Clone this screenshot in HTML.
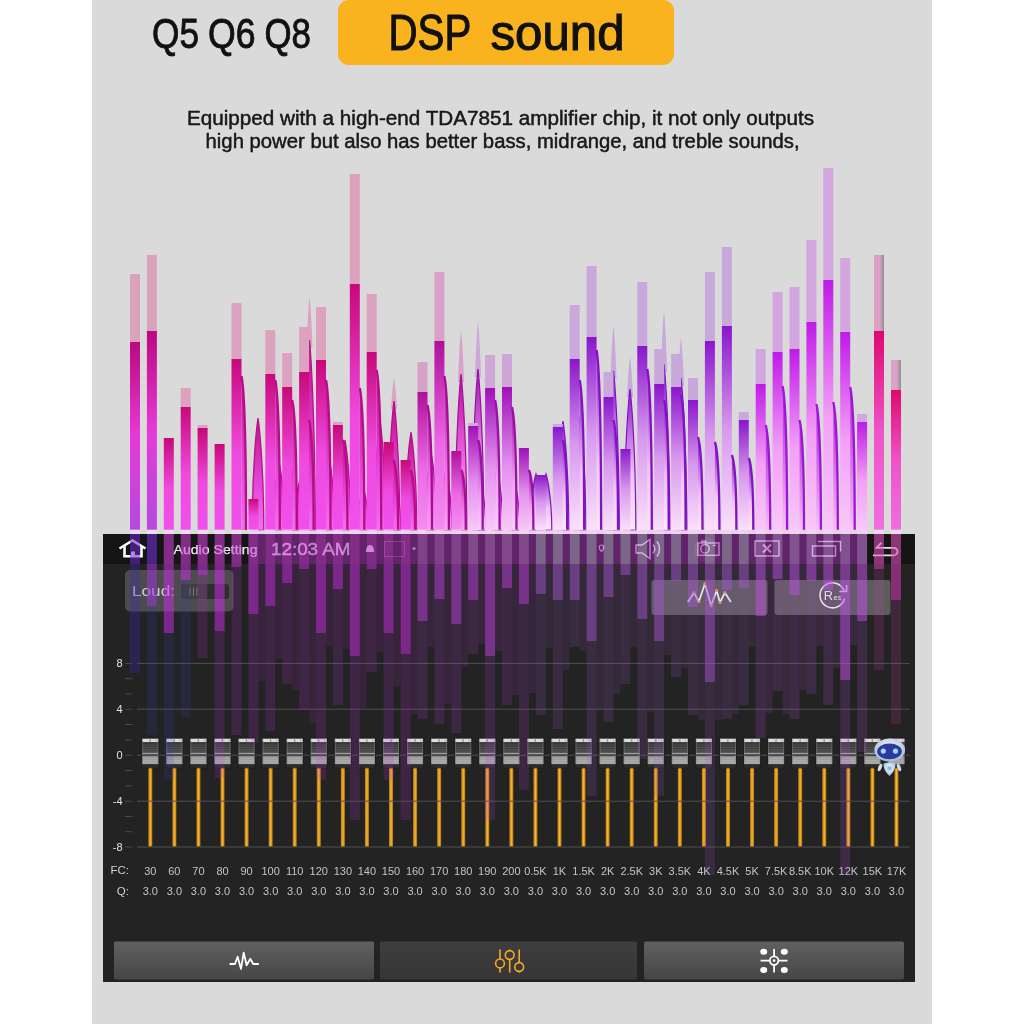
<!DOCTYPE html><html><head><meta charset="utf-8"><title>DSP sound</title><style>
html,body{margin:0;padding:0;background:#fff;}body{width:1024px;height:1024px;overflow:hidden;position:relative;}
svg{position:absolute;left:0;top:0;display:block}
.t{font-family:"Liberation Sans",Arial,sans-serif;}
</style></head><body>
<svg width="1024" height="1024" viewBox="0 0 1024 1024">
<defs>
<linearGradient id="gA" x1="0" y1="0" x2="0" y2="1"><stop offset="0" stop-color="#bc0880"/><stop offset="0.5" stop-color="#e63ad8"/><stop offset="1" stop-color="#b44ae0"/></linearGradient>
<linearGradient id="aA" x1="0" y1="0" x2="0" y2="1"><stop offset="0" stop-color="#c0108a"/><stop offset="1" stop-color="#f070e8"/></linearGradient>
<linearGradient id="gB" x1="0" y1="0" x2="0" y2="1"><stop offset="0" stop-color="#c8087a"/><stop offset="0.55" stop-color="#f04ae0"/><stop offset="1" stop-color="#f050ec"/></linearGradient>
<linearGradient id="aB" x1="0" y1="0" x2="0" y2="1"><stop offset="0" stop-color="#c0108a"/><stop offset="0.6" stop-color="#e448d8"/><stop offset="1" stop-color="#f070ec"/></linearGradient>
<linearGradient id="gB2" x1="0" y1="0" x2="0" y2="1"><stop offset="0" stop-color="#b0109a"/><stop offset="0.55" stop-color="#ec68e8"/><stop offset="1" stop-color="#f48cf0"/></linearGradient>
<linearGradient id="aB2" x1="0" y1="0" x2="0" y2="1"><stop offset="0" stop-color="#b0109a"/><stop offset="0.6" stop-color="#f070e8"/><stop offset="1" stop-color="#f8a0f4"/></linearGradient>
<linearGradient id="gC" x1="0" y1="0" x2="0" y2="1"><stop offset="0" stop-color="#a010b8"/><stop offset="0.55" stop-color="#e490f0"/><stop offset="1" stop-color="#f8c8f8"/></linearGradient>
<linearGradient id="aC" x1="0" y1="0" x2="0" y2="1"><stop offset="0" stop-color="#a010a8"/><stop offset="0.6" stop-color="#f0a0f0"/><stop offset="1" stop-color="#f8d0f8"/></linearGradient>
<linearGradient id="gD" x1="0" y1="0" x2="0" y2="1"><stop offset="0" stop-color="#8a16cc"/><stop offset="0.5" stop-color="#d898ee"/><stop offset="1" stop-color="#fbe0fb"/></linearGradient>
<linearGradient id="aD" x1="0" y1="0" x2="0" y2="1"><stop offset="0" stop-color="#8a16cc"/><stop offset="0.6" stop-color="#f0c0f4"/><stop offset="1" stop-color="#fce8fc"/></linearGradient>
<linearGradient id="gE" x1="0" y1="0" x2="0" y2="1"><stop offset="0" stop-color="#c01ae8"/><stop offset="0.55" stop-color="#f4a0f8"/><stop offset="1" stop-color="#f8c8f8"/></linearGradient>
<linearGradient id="aE" x1="0" y1="0" x2="0" y2="1"><stop offset="0" stop-color="#b018e0"/><stop offset="1" stop-color="#f8c0f8"/></linearGradient>
<linearGradient id="gF" x1="0" y1="0" x2="0" y2="1"><stop offset="0" stop-color="#e0086e"/><stop offset="0.5" stop-color="#f052c8"/><stop offset="1" stop-color="#f06ee0"/></linearGradient>
<linearGradient id="aF" x1="0" y1="0" x2="0" y2="1"><stop offset="0" stop-color="#c0086e"/><stop offset="1" stop-color="#f070e0"/></linearGradient>
<linearGradient id="knobTop" x1="0" y1="0" x2="0" y2="1"><stop offset="0" stop-color="#404040"/><stop offset="1" stop-color="#5c5c5c"/></linearGradient>
<linearGradient id="knobBot" x1="0" y1="0" x2="0" y2="1"><stop offset="0" stop-color="#909090"/><stop offset="1" stop-color="#ababab"/></linearGradient>
<linearGradient id="btn" x1="0" y1="0" x2="0" y2="1"><stop offset="0" stop-color="#606060"/><stop offset="1" stop-color="#464646"/></linearGradient>
<linearGradient id="btn2" x1="0" y1="0" x2="0" y2="1"><stop offset="0" stop-color="#3e3e3e"/><stop offset="1" stop-color="#363636"/></linearGradient>
<linearGradient id="stem" x1="0" y1="0" x2="1" y2="0"><stop offset="0" stop-color="#b07010"/><stop offset="0.5" stop-color="#f8b830"/><stop offset="1" stop-color="#b07010"/></linearGradient>
<radialGradient id="robo" cx="0.5" cy="0.4" r="0.6"><stop offset="0" stop-color="#ffffff"/><stop offset="1" stop-color="#a8b8d0"/></radialGradient>
<linearGradient id="gstrip" x1="0" y1="0" x2="1" y2="0"><stop offset="0" stop-color="#909090" stop-opacity="0"/><stop offset="1" stop-color="#8a8a8a" stop-opacity="0.9"/></linearGradient>
<clipPath id="topclip"><rect x="92" y="0" width="840" height="534"/></clipPath>
</defs>
<rect x="92" y="0" width="840" height="1024" fill="#dadada"/>
<text class="t" y="48" font-size="42.5" fill="#111" stroke="#111" stroke-width="0.9"><tspan x="152" textLength="47" lengthAdjust="spacingAndGlyphs">Q5</tspan> <tspan x="208" textLength="47.5" lengthAdjust="spacingAndGlyphs">Q6</tspan> <tspan x="264.5" textLength="46.5" lengthAdjust="spacingAndGlyphs">Q8</tspan></text>
<rect x="338" y="0" width="336" height="65" rx="11" fill="#f9b31e"/>
<text class="t" y="50.3" font-size="49.5" fill="#111" stroke="#111" stroke-width="1.1"><tspan x="388.5" textLength="82" lengthAdjust="spacingAndGlyphs">DSP</tspan> <tspan x="490.5" textLength="134" lengthAdjust="spacingAndGlyphs">sound</tspan></text>
<text class="t" x="187" y="125" font-size="19.5" fill="#1a1a1a" stroke="#111" stroke-width="0.45" textLength="627" lengthAdjust="spacingAndGlyphs">Equipped with a high-end TDA7851 amplifier chip, it not only outputs</text>
<text class="t" x="205.6" y="148.4" font-size="19.5" fill="#1a1a1a" stroke="#111" stroke-width="0.45" textLength="594" lengthAdjust="spacingAndGlyphs">high power but also has better bass, midrange, and treble sounds,</text>
<g clip-path="url(#topclip)">
<path d="M252.2,530 C252.2,468.4 256.5,427.0 258.0,418 C259.5,427.0 263.8,468.4 263.8,530 Z" fill="url(#aB)" stroke="#b80c8c" stroke-width="1.2"/>
<path d="M273.2,530 C273.2,493.1 277.5,468.4 279.0,463 C280.5,468.4 284.8,493.1 284.8,530 Z" fill="url(#aB)" stroke="#b80c8c" stroke-width="1.2"/>
<path d="M306.5,348 C307.5,320.3 309.0,299.0 309.5,297 C310.0,299.0 311.5,320.3 312.5,348 Z" fill="#dca2c0"/>
<path d="M303.7,530 C303.7,425.5 308.0,355.2 309.5,340 C311.0,355.2 315.3,425.5 315.3,530 Z" fill="url(#aB)" stroke="#b80c8c" stroke-width="1.2"/>
<path d="M323.2,530 C323.2,490.4 327.5,463.8 329.0,458 C330.5,463.8 334.8,490.4 334.8,530 Z" fill="url(#aB)" stroke="#b80c8c" stroke-width="1.2"/>
<path d="M339.2,530 C339.2,480.5 343.5,447.2 345.0,440 C346.5,447.2 350.8,480.5 350.8,530 Z" fill="url(#aB)" stroke="#b80c8c" stroke-width="1.2"/>
<path d="M357.2,530 C357.2,506.9 361.5,491.4 363.0,488 C364.5,491.4 368.8,506.9 368.8,530 Z" fill="url(#aB)" stroke="#b80c8c" stroke-width="1.2"/>
<path d="M374.2,530 C374.2,470.1 378.5,429.7 380.0,421 C381.5,429.7 385.8,470.1 385.8,530 Z" fill="url(#aB)" stroke="#b80c8c" stroke-width="1.2"/>
<path d="M391.0,409 C392.0,393.2 393.5,380.0 394.0,378 C394.5,380.0 396.0,393.2 397.0,409 Z" fill="#dca2c0"/>
<path d="M388.2,530 C388.2,459.1 392.5,411.3 394.0,401 C395.5,411.3 399.8,459.1 399.8,530 Z" fill="url(#aB)" stroke="#b80c8c" stroke-width="1.2"/>
<path d="M405.2,530 C405.2,476.1 409.5,439.8 411.0,432 C412.5,439.8 416.8,476.1 416.8,530 Z" fill="url(#aB)" stroke="#b80c8c" stroke-width="1.2"/>
<path d="M425.2,530 C425.2,487.6 429.5,459.2 431.0,453 C432.5,459.2 436.8,487.6 436.8,530 Z" fill="url(#aB2)" stroke="#a80c98" stroke-width="1.2"/>
<path d="M458.0,382 C459.0,350.9 460.5,333.0 461.0,331 C461.5,333.0 463.0,350.9 464.0,382 Z" fill="#d8a2c8"/>
<path d="M455.2,530 C455.2,444.2 459.5,386.5 461.0,374 C462.5,386.5 466.8,444.2 466.8,530 Z" fill="url(#aB2)" stroke="#a80c98" stroke-width="1.2"/>
<path d="M475.0,377 C476.0,342.8 477.5,324.0 478.0,322 C478.5,324.0 480.0,342.8 481.0,377 Z" fill="#d0a6d8"/>
<path d="M472.2,530 C472.2,441.4 476.5,381.9 478.0,369 C479.5,381.9 483.8,441.4 483.8,530 Z" fill="url(#aC)" stroke="#9a10a8" stroke-width="1.2"/>
<path d="M530.2,530 C530.2,499.2 534.5,478.5 536.0,474 C537.5,478.5 541.8,499.2 541.8,530 Z" fill="url(#aD)" stroke="#8412c4" stroke-width="1.2"/>
<path d="M540.2,530 C540.2,499.2 544.5,478.5 546.0,474 C547.5,478.5 551.8,499.2 551.8,530 Z" fill="url(#aD)" stroke="#8412c4" stroke-width="1.2"/>
<path d="M557.2,530 C557.2,470.1 561.5,429.7 563.0,421 C564.5,429.7 568.8,470.1 568.8,530 Z" fill="url(#aD)" stroke="#8412c4" stroke-width="1.2"/>
<path d="M574.2,530 C574.2,467.9 578.5,426.0 580.0,417 C581.5,426.0 585.8,467.9 585.8,530 Z" fill="url(#aD)" stroke="#8412c4" stroke-width="1.2"/>
<path d="M610.5,379 C611.5,346.4 613.0,328.0 613.5,326 C614.0,328.0 615.5,346.4 616.5,379 Z" fill="#c9a8dc"/>
<path d="M607.7,530 C607.7,442.6 612.0,383.7 613.5,371 C615.0,383.7 619.3,442.6 619.3,530 Z" fill="url(#aD)" stroke="#8412c4" stroke-width="1.2"/>
<path d="M627.0,397 C628.0,374.3 629.5,359.0 630.0,357 C630.5,359.0 632.0,374.3 633.0,397 Z" fill="#c9a8dc"/>
<path d="M624.2,530 C624.2,452.4 628.5,400.3 630.0,389 C631.5,400.3 635.8,452.4 635.8,530 Z" fill="url(#aD)" stroke="#8412c4" stroke-width="1.2"/>
<path d="M661.0,372 C662.0,333.8 663.5,314.0 664.0,312 C664.5,314.0 666.0,333.8 667.0,372 Z" fill="#c9a8dc"/>
<path d="M658.2,530 C658.2,438.7 662.5,377.3 664.0,364 C665.5,377.3 669.8,438.7 669.8,530 Z" fill="url(#aD)" stroke="#8412c4" stroke-width="1.2"/>
<path d="M678.0,386 C679.0,357.2 680.5,340.0 681.0,338 C681.5,340.0 683.0,357.2 684.0,386 Z" fill="#c9a8dc"/>
<path d="M675.2,530 C675.2,446.4 679.5,390.2 681.0,378 C682.5,390.2 686.8,446.4 686.8,530 Z" fill="url(#aD)" stroke="#8412c4" stroke-width="1.2"/>
<path d="M491.2,530 C491.2,497.0 495.5,474.8 497.0,470 C498.5,474.8 502.8,497.0 502.8,530 Z" fill="url(#aC)" stroke="#9a10a8" stroke-width="1.2"/>
<path d="M508.2,530 C508.2,502.5 512.5,484.0 514.0,480 C515.5,484.0 519.8,502.5 519.8,530 Z" fill="url(#aC)" stroke="#9a10a8" stroke-width="1.2"/>
<path d="M440.2,530 C440.2,497.0 444.5,474.8 446.0,470 C447.5,474.8 451.8,497.0 451.8,530 Z" fill="url(#aB2)" stroke="#a80c98" stroke-width="1.2"/>
<path d="M474.2,530 C474.2,502.5 478.5,484.0 480.0,480 C481.5,484.0 485.8,502.5 485.8,530 Z" fill="url(#aC)" stroke="#9a10a8" stroke-width="1.2"/>
<path d="M389.2,530 C389.2,502.5 393.5,484.0 395.0,480 C396.5,484.0 400.8,502.5 400.8,530 Z" fill="url(#aB)" stroke="#b80c8c" stroke-width="1.2"/>
<path d="M294.2,530 C294.2,502.5 298.5,484.0 300.0,480 C301.5,484.0 305.8,502.5 305.8,530 Z" fill="url(#aB)" stroke="#b80c8c" stroke-width="1.2"/>
<path d="M286.2,530 C286.2,497.0 290.5,474.8 292.0,470 C293.5,474.8 297.8,497.0 297.8,530 Z" fill="url(#aB)" stroke="#b80c8c" stroke-width="1.2"/>
<rect x="130.0" y="274" width="10" height="68" fill="#dba2bb"/>
<rect x="130.0" y="342" width="10" height="188" fill="url(#gA)"/>
<rect x="146.9" y="255" width="10" height="76" fill="#dba2bb"/>
<rect x="146.9" y="331" width="10" height="199" fill="url(#gA)"/>
<rect x="163.8" y="438" width="10" height="92" fill="url(#gB)"/>
<rect x="180.7" y="388" width="10" height="19" fill="#dca2c0"/>
<rect x="180.7" y="407" width="10" height="123" fill="url(#gB)"/>
<rect x="197.6" y="425" width="10" height="3" fill="#dca2c0"/>
<rect x="197.6" y="428" width="10" height="102" fill="url(#gB)"/>
<rect x="214.6" y="444" width="10" height="86" fill="url(#gB)"/>
<rect x="231.5" y="303" width="10" height="56" fill="#dca2c0"/>
<rect x="231.5" y="359" width="10" height="171" fill="url(#gB)"/>
<rect x="248.4" y="499" width="10" height="31" fill="url(#gB)"/>
<rect x="265.3" y="330" width="10" height="44" fill="#dca2c0"/>
<rect x="265.3" y="374" width="10" height="156" fill="url(#gB)"/>
<rect x="282.2" y="353" width="10" height="34" fill="#dca2c0"/>
<rect x="282.2" y="387" width="10" height="143" fill="url(#gB)"/>
<rect x="299.1" y="327" width="10" height="45" fill="#dca2c0"/>
<rect x="299.1" y="372" width="10" height="158" fill="url(#gB)"/>
<rect x="316.0" y="307" width="10" height="53" fill="#dca2c0"/>
<rect x="316.0" y="360" width="10" height="170" fill="url(#gB)"/>
<rect x="332.9" y="422" width="10" height="3" fill="#dca2c0"/>
<rect x="332.9" y="425" width="10" height="105" fill="url(#gB)"/>
<rect x="349.8" y="174" width="10" height="110" fill="#dca2c0"/>
<rect x="349.8" y="284" width="10" height="246" fill="url(#gB)"/>
<rect x="366.7" y="294" width="10" height="58" fill="#dca2c0"/>
<rect x="366.7" y="352" width="10" height="178" fill="url(#gB)"/>
<rect x="383.6" y="442" width="10" height="88" fill="url(#gB)"/>
<rect x="400.6" y="460" width="10" height="70" fill="url(#gB)"/>
<rect x="417.5" y="362" width="10" height="30" fill="#d8a2c8"/>
<rect x="417.5" y="392" width="10" height="138" fill="url(#gB2)"/>
<rect x="434.4" y="272" width="10" height="69" fill="#d8a2c8"/>
<rect x="434.4" y="341" width="10" height="189" fill="url(#gB2)"/>
<rect x="451.3" y="451" width="10" height="79" fill="url(#gB2)"/>
<rect x="468.2" y="423" width="10" height="3" fill="#d0a6d8"/>
<rect x="468.2" y="426" width="10" height="104" fill="url(#gC)"/>
<rect x="485.1" y="355" width="10" height="33" fill="#d0a6d8"/>
<rect x="485.1" y="388" width="10" height="142" fill="url(#gC)"/>
<rect x="502.0" y="354" width="10" height="33" fill="#d0a6d8"/>
<rect x="502.0" y="387" width="10" height="143" fill="url(#gC)"/>
<rect x="518.9" y="448" width="10" height="82" fill="url(#gC)"/>
<rect x="535.8" y="475" width="10" height="55" fill="url(#gD)"/>
<rect x="552.8" y="424" width="10" height="3" fill="#c9a8dc"/>
<rect x="552.8" y="427" width="10" height="103" fill="url(#gD)"/>
<rect x="569.7" y="305" width="10" height="54" fill="#c9a8dc"/>
<rect x="569.7" y="359" width="10" height="171" fill="url(#gD)"/>
<rect x="586.6" y="266" width="10" height="71" fill="#c9a8dc"/>
<rect x="586.6" y="337" width="10" height="193" fill="url(#gD)"/>
<rect x="603.5" y="372" width="10" height="25" fill="#c9a8dc"/>
<rect x="603.5" y="397" width="10" height="133" fill="url(#gD)"/>
<rect x="620.4" y="449" width="10" height="81" fill="url(#gD)"/>
<rect x="637.3" y="282" width="10" height="64" fill="#c9a8dc"/>
<rect x="637.3" y="346" width="10" height="184" fill="url(#gD)"/>
<rect x="654.2" y="349" width="10" height="35" fill="#c9a8dc"/>
<rect x="654.2" y="384" width="10" height="146" fill="url(#gD)"/>
<rect x="671.1" y="354" width="10" height="33" fill="#c9a8dc"/>
<rect x="671.1" y="387" width="10" height="143" fill="url(#gD)"/>
<rect x="688.0" y="378" width="10" height="22" fill="#c9a8dc"/>
<rect x="688.0" y="400" width="10" height="130" fill="url(#gD)"/>
<rect x="704.9" y="272" width="10" height="69" fill="#c9a8dc"/>
<rect x="704.9" y="341" width="10" height="189" fill="url(#gD)"/>
<rect x="721.9" y="247" width="10" height="79" fill="#c9a8dc"/>
<rect x="721.9" y="326" width="10" height="204" fill="url(#gD)"/>
<rect x="738.8" y="412" width="10" height="8" fill="#c9a8dc"/>
<rect x="738.8" y="420" width="10" height="110" fill="url(#gD)"/>
<rect x="755.7" y="349" width="10" height="35" fill="#d4a6e0"/>
<rect x="755.7" y="384" width="10" height="146" fill="url(#gE)"/>
<rect x="772.6" y="292" width="10" height="60" fill="#d4a6e0"/>
<rect x="772.6" y="352" width="10" height="178" fill="url(#gE)"/>
<rect x="789.5" y="287" width="10" height="62" fill="#d4a6e0"/>
<rect x="789.5" y="349" width="10" height="181" fill="url(#gE)"/>
<rect x="806.4" y="240" width="10" height="82" fill="#d4a6e0"/>
<rect x="806.4" y="322" width="10" height="208" fill="url(#gE)"/>
<rect x="823.3" y="168" width="10" height="112" fill="#d4a6e0"/>
<rect x="823.3" y="280" width="10" height="250" fill="url(#gE)"/>
<rect x="840.2" y="258" width="10" height="74" fill="#d4a6e0"/>
<rect x="840.2" y="332" width="10" height="198" fill="url(#gE)"/>
<rect x="857.1" y="414" width="10" height="8" fill="#d4a6e0"/>
<rect x="857.1" y="422" width="10" height="108" fill="url(#gE)"/>
<rect x="874.0" y="255" width="10" height="76" fill="#dca2c6"/>
<rect x="874.0" y="331" width="10" height="199" fill="url(#gF)"/>
<rect x="891.0" y="360" width="10" height="30" fill="#dca2c6"/>
<rect x="891.0" y="390" width="10" height="140" fill="url(#gF)"/>
<rect x="879.5" y="255" width="4.5" height="76" fill="url(#gstrip)"/>
<rect x="896.5" y="360" width="4.5" height="30" fill="url(#gstrip)"/>
<path d="M241.5,376 C244.0,388.3 246.0,422.2 246.0,530 L241.5,530 Z" fill="url(#aB)"/>
<path d="M241.5,376 C244.0,388.3 246.0,422.2 246.0,530" fill="none" stroke="#b80c8c" stroke-width="2.3"/>
<path d="M275.3,380 C277.8,392.0 279.8,425.0 279.8,530 L275.3,530 Z" fill="url(#aB)"/>
<path d="M275.3,380 C277.8,392.0 279.8,425.0 279.8,530" fill="none" stroke="#b80c8c" stroke-width="2.3"/>
<path d="M292.2,400 C294.7,410.4 296.7,439.0 296.7,530 L292.2,530 Z" fill="url(#aB)"/>
<path d="M292.2,400 C294.7,410.4 296.7,439.0 296.7,530" fill="none" stroke="#b80c8c" stroke-width="2.3"/>
<path d="M326.0,380 C328.5,392.0 330.5,425.0 330.5,530 L326.0,530 Z" fill="url(#aB)"/>
<path d="M326.0,380 C328.5,392.0 330.5,425.0 330.5,530" fill="none" stroke="#b80c8c" stroke-width="2.3"/>
<path d="M342.9,440 C345.4,447.2 347.4,467.0 347.4,530 L342.9,530 Z" fill="url(#aB)"/>
<path d="M342.9,440 C345.4,447.2 347.4,467.0 347.4,530" fill="none" stroke="#b80c8c" stroke-width="2.3"/>
<path d="M359.8,388 C362.3,399.4 364.3,430.6 364.3,530 L359.8,530 Z" fill="url(#aB)"/>
<path d="M359.8,388 C362.3,399.4 364.3,430.6 364.3,530" fill="none" stroke="#b80c8c" stroke-width="2.3"/>
<path d="M376.7,370 C379.2,382.8 381.2,418.0 381.2,530 L376.7,530 Z" fill="url(#aB)"/>
<path d="M376.7,370 C379.2,382.8 381.2,418.0 381.2,530" fill="none" stroke="#b80c8c" stroke-width="2.3"/>
<path d="M427.5,405 C430.0,415.0 432.0,442.5 432.0,530 L427.5,530 Z" fill="url(#aB2)"/>
<path d="M427.5,405 C430.0,415.0 432.0,442.5 432.0,530" fill="none" stroke="#a80c98" stroke-width="2.3"/>
<path d="M444.4,376 C446.9,388.3 448.9,422.2 448.9,530 L444.4,530 Z" fill="url(#aB2)"/>
<path d="M444.4,376 C446.9,388.3 448.9,422.2 448.9,530" fill="none" stroke="#a80c98" stroke-width="2.3"/>
<path d="M495.1,400 C497.6,410.4 499.6,439.0 499.6,530 L495.1,530 Z" fill="url(#aC)"/>
<path d="M495.1,400 C497.6,410.4 499.6,439.0 499.6,530" fill="none" stroke="#9a10a8" stroke-width="2.3"/>
<path d="M512.0,407 C514.5,416.8 516.5,443.9 516.5,530 L512.0,530 Z" fill="url(#aC)"/>
<path d="M512.0,407 C514.5,416.8 516.5,443.9 516.5,530" fill="none" stroke="#9a10a8" stroke-width="2.3"/>
<path d="M528.9,470 C531.4,474.8 533.4,488.0 533.4,530 L528.9,530 Z" fill="url(#aC)"/>
<path d="M528.9,470 C531.4,474.8 533.4,488.0 533.4,530" fill="none" stroke="#9a10a8" stroke-width="2.3"/>
<path d="M596.6,350 C599.1,364.4 601.1,404.0 601.1,530 L596.6,530 Z" fill="url(#aD)"/>
<path d="M596.6,350 C599.1,364.4 601.1,404.0 601.1,530" fill="none" stroke="#8412c4" stroke-width="2.3"/>
<path d="M647.3,369 C649.8,381.9 651.8,417.3 651.8,530 L647.3,530 Z" fill="url(#aD)"/>
<path d="M647.3,369 C649.8,381.9 651.8,417.3 651.8,530" fill="none" stroke="#8412c4" stroke-width="2.3"/>
<path d="M698.0,437 C700.5,444.4 702.5,464.9 702.5,530 L698.0,530 Z" fill="url(#aD)"/>
<path d="M698.0,437 C700.5,444.4 702.5,464.9 702.5,530" fill="none" stroke="#8412c4" stroke-width="2.3"/>
<path d="M714.9,442 C717.4,449.0 719.4,468.4 719.4,530 L714.9,530 Z" fill="url(#aD)"/>
<path d="M714.9,442 C717.4,449.0 719.4,468.4 719.4,530" fill="none" stroke="#8412c4" stroke-width="2.3"/>
<path d="M731.9,455 C734.4,461.0 736.4,477.5 736.4,530 L731.9,530 Z" fill="url(#aD)"/>
<path d="M731.9,455 C734.4,461.0 736.4,477.5 736.4,530" fill="none" stroke="#8412c4" stroke-width="2.3"/>
<path d="M748.8,458 C751.3,463.8 753.3,479.6 753.3,530 L748.8,530 Z" fill="url(#aD)"/>
<path d="M748.8,458 C751.3,463.8 753.3,479.6 753.3,530" fill="none" stroke="#8412c4" stroke-width="2.3"/>
<path d="M765.7,425 C768.2,433.4 770.2,456.5 770.2,530 L765.7,530 Z" fill="url(#aE)"/>
<path d="M765.7,425 C768.2,433.4 770.2,456.5 770.2,530" fill="none" stroke="#a014d8" stroke-width="2.3"/>
<path d="M782.6,386 C785.1,397.5 787.1,429.2 787.1,530 L782.6,530 Z" fill="url(#aE)"/>
<path d="M782.6,386 C785.1,397.5 787.1,429.2 787.1,530" fill="none" stroke="#a014d8" stroke-width="2.3"/>
<path d="M799.5,420 C802.0,428.8 804.0,453.0 804.0,530 L799.5,530 Z" fill="url(#aE)"/>
<path d="M799.5,420 C802.0,428.8 804.0,453.0 804.0,530" fill="none" stroke="#a014d8" stroke-width="2.3"/>
<path d="M816.4,404 C818.9,414.1 820.9,441.8 820.9,530 L816.4,530 Z" fill="url(#aE)"/>
<path d="M816.4,404 C818.9,414.1 820.9,441.8 820.9,530" fill="none" stroke="#a014d8" stroke-width="2.3"/>
<path d="M833.3,402 C835.8,412.2 837.8,440.4 837.8,530 L833.3,530 Z" fill="url(#aE)"/>
<path d="M833.3,402 C835.8,412.2 837.8,440.4 837.8,530" fill="none" stroke="#a014d8" stroke-width="2.3"/>
<path d="M850.2,387 C852.7,398.4 854.7,429.9 854.7,530 L850.2,530 Z" fill="url(#aE)"/>
<path d="M850.2,387 C852.7,398.4 854.7,429.9 854.7,530" fill="none" stroke="#a014d8" stroke-width="2.3"/>
<path d="M562.8,440 C565.2,447.2 567.2,467.0 567.2,530 L562.8,530 Z" fill="url(#aD)"/>
<path d="M562.8,440 C565.2,447.2 567.2,467.0 567.2,530" fill="none" stroke="#8412c4" stroke-width="2.3"/>
<path d="M579.7,380 C582.2,392.0 584.2,425.0 584.2,530 L579.7,530 Z" fill="url(#aD)"/>
<path d="M579.7,380 C582.2,392.0 584.2,425.0 584.2,530" fill="none" stroke="#8412c4" stroke-width="2.3"/>
<path d="M613.5,420 C616.0,428.8 618.0,453.0 618.0,530 L613.5,530 Z" fill="url(#aD)"/>
<path d="M613.5,420 C616.0,428.8 618.0,453.0 618.0,530" fill="none" stroke="#8412c4" stroke-width="2.3"/>
<path d="M664.2,400 C666.7,410.4 668.7,439.0 668.7,530 L664.2,530 Z" fill="url(#aD)"/>
<path d="M664.2,400 C666.7,410.4 668.7,439.0 668.7,530" fill="none" stroke="#8412c4" stroke-width="2.3"/>
<path d="M681.1,395 C683.6,405.8 685.6,435.5 685.6,530 L681.1,530 Z" fill="url(#aD)"/>
<path d="M681.1,395 C683.6,405.8 685.6,435.5 685.6,530" fill="none" stroke="#8412c4" stroke-width="2.3"/>
<path d="M461.3,470 C463.8,474.8 465.8,488.0 465.8,530 L461.3,530 Z" fill="url(#aB2)"/>
<path d="M461.3,470 C463.8,474.8 465.8,488.0 465.8,530" fill="none" stroke="#a80c98" stroke-width="2.3"/>
<path d="M478.2,440 C480.7,447.2 482.7,467.0 482.7,530 L478.2,530 Z" fill="url(#aC)"/>
<path d="M478.2,440 C480.7,447.2 482.7,467.0 482.7,530" fill="none" stroke="#9a10a8" stroke-width="2.3"/>
<path d="M309.1,420 C311.6,428.8 313.6,453.0 313.6,530 L309.1,530 Z" fill="url(#aB)"/>
<path d="M309.1,420 C311.6,428.8 313.6,453.0 313.6,530" fill="none" stroke="#b80c8c" stroke-width="2.3"/>
<path d="M393.6,460 C396.1,465.6 398.1,481.0 398.1,530 L393.6,530 Z" fill="url(#aB)"/>
<path d="M393.6,460 C396.1,465.6 398.1,481.0 398.1,530" fill="none" stroke="#b80c8c" stroke-width="2.3"/>
<path d="M410.6,470 C413.1,474.8 415.1,488.0 415.1,530 L410.6,530 Z" fill="url(#aB)"/>
<path d="M410.6,470 C413.1,474.8 415.1,488.0 415.1,530" fill="none" stroke="#b80c8c" stroke-width="2.3"/>
<rect x="130.0" y="529.5" width="10" height="4.5" fill="#fbe0fb" opacity="0.55"/>
<rect x="146.9" y="529.5" width="10" height="4.5" fill="#fbe0fb" opacity="0.55"/>
<rect x="163.8" y="529.5" width="10" height="4.5" fill="#fbe0fb" opacity="0.55"/>
<rect x="180.7" y="529.5" width="10" height="4.5" fill="#fbe0fb" opacity="0.55"/>
<rect x="197.6" y="529.5" width="10" height="4.5" fill="#fbe0fb" opacity="0.55"/>
<rect x="214.6" y="529.5" width="10" height="4.5" fill="#fbe0fb" opacity="0.55"/>
<rect x="231.5" y="529.5" width="10" height="4.5" fill="#fbe0fb" opacity="0.55"/>
<rect x="248.4" y="529.5" width="10" height="4.5" fill="#fbe0fb" opacity="0.55"/>
<rect x="265.3" y="529.5" width="10" height="4.5" fill="#fbe0fb" opacity="0.55"/>
<rect x="282.2" y="529.5" width="10" height="4.5" fill="#fbe0fb" opacity="0.55"/>
<rect x="299.1" y="529.5" width="10" height="4.5" fill="#fbe0fb" opacity="0.55"/>
<rect x="316.0" y="529.5" width="10" height="4.5" fill="#fbe0fb" opacity="0.55"/>
<rect x="332.9" y="529.5" width="10" height="4.5" fill="#fbe0fb" opacity="0.55"/>
<rect x="349.8" y="529.5" width="10" height="4.5" fill="#fbe0fb" opacity="0.55"/>
<rect x="366.7" y="529.5" width="10" height="4.5" fill="#fbe0fb" opacity="0.55"/>
<rect x="383.6" y="529.5" width="10" height="4.5" fill="#fbe0fb" opacity="0.55"/>
<rect x="400.6" y="529.5" width="10" height="4.5" fill="#fbe0fb" opacity="0.55"/>
<rect x="417.5" y="529.5" width="10" height="4.5" fill="#fbe0fb" opacity="0.55"/>
<rect x="434.4" y="529.5" width="10" height="4.5" fill="#fbe0fb" opacity="0.55"/>
<rect x="451.3" y="529.5" width="10" height="4.5" fill="#fbe0fb" opacity="0.55"/>
<rect x="468.2" y="529.5" width="10" height="4.5" fill="#fbe0fb" opacity="0.55"/>
<rect x="485.1" y="529.5" width="10" height="4.5" fill="#fbe0fb" opacity="0.55"/>
<rect x="502.0" y="529.5" width="10" height="4.5" fill="#fbe0fb" opacity="0.55"/>
<rect x="518.9" y="529.5" width="10" height="4.5" fill="#fbe0fb" opacity="0.55"/>
<rect x="535.8" y="529.5" width="10" height="4.5" fill="#fbe0fb" opacity="0.55"/>
<rect x="552.8" y="529.5" width="10" height="4.5" fill="#fbe0fb" opacity="0.55"/>
<rect x="569.7" y="529.5" width="10" height="4.5" fill="#fbe0fb" opacity="0.55"/>
<rect x="586.6" y="529.5" width="10" height="4.5" fill="#fbe0fb" opacity="0.55"/>
<rect x="603.5" y="529.5" width="10" height="4.5" fill="#fbe0fb" opacity="0.55"/>
<rect x="620.4" y="529.5" width="10" height="4.5" fill="#fbe0fb" opacity="0.55"/>
<rect x="637.3" y="529.5" width="10" height="4.5" fill="#fbe0fb" opacity="0.55"/>
<rect x="654.2" y="529.5" width="10" height="4.5" fill="#fbe0fb" opacity="0.55"/>
<rect x="671.1" y="529.5" width="10" height="4.5" fill="#fbe0fb" opacity="0.55"/>
<rect x="688.0" y="529.5" width="10" height="4.5" fill="#fbe0fb" opacity="0.55"/>
<rect x="704.9" y="529.5" width="10" height="4.5" fill="#fbe0fb" opacity="0.55"/>
<rect x="721.9" y="529.5" width="10" height="4.5" fill="#fbe0fb" opacity="0.55"/>
<rect x="738.8" y="529.5" width="10" height="4.5" fill="#fbe0fb" opacity="0.55"/>
<rect x="755.7" y="529.5" width="10" height="4.5" fill="#fbe0fb" opacity="0.55"/>
<rect x="772.6" y="529.5" width="10" height="4.5" fill="#fbe0fb" opacity="0.55"/>
<rect x="789.5" y="529.5" width="10" height="4.5" fill="#fbe0fb" opacity="0.55"/>
<rect x="806.4" y="529.5" width="10" height="4.5" fill="#fbe0fb" opacity="0.55"/>
<rect x="823.3" y="529.5" width="10" height="4.5" fill="#fbe0fb" opacity="0.55"/>
<rect x="840.2" y="529.5" width="10" height="4.5" fill="#fbe0fb" opacity="0.55"/>
<rect x="857.1" y="529.5" width="10" height="4.5" fill="#fbe0fb" opacity="0.55"/>
<rect x="874.0" y="529.5" width="10" height="4.5" fill="#fbe0fb" opacity="0.55"/>
<rect x="891.0" y="529.5" width="10" height="4.5" fill="#fbe0fb" opacity="0.55"/>
<rect x="248.4" y="529.5" width="618.8" height="4.5" fill="#f4c8f4" opacity="0.45"/>
</g>
<rect x="103" y="534" width="812" height="448" fill="#232323"/>
<rect x="103" y="534" width="812" height="30" fill="#151515"/>
<path d="M119.5,548.5 L132.5,540.5 L145.5,548.5 M124.5,546 V556.3 H141.5 V546" fill="none" stroke="#fff" stroke-width="2.6" stroke-linejoin="miter"/>
<rect x="131" y="551.5" width="4" height="4" fill="#fff"/>
<text class="t" x="173.5" y="554" font-size="13.2" fill="#ececec" stroke="#ececec" stroke-width="0.25" textLength="84" lengthAdjust="spacingAndGlyphs">Audio Setting</text>
<text class="t" x="271" y="555.2" font-size="16" fill="#ececec" stroke="#ececec" stroke-width="0.35" textLength="79.5" lengthAdjust="spacingAndGlyphs">12:03 AM</text>
<path d="M366,552 Q366,545 370,545 Q374,545 374,552 Z" fill="#ddd"/>
<rect x="384.5" y="541.5" width="20" height="15" fill="none" stroke="#555" stroke-width="1"/>
<circle cx="414" cy="548.5" r="1.5" fill="#ddd"/>
<path d="M601.5,551.5 C598.5,548.5 598.5,545 601.5,545 C604.5,545 604.5,548.5 601.5,551.5 Z" fill="none" stroke="#ddd" stroke-width="1.2"/>
<path d="M636,545 H642 L650,539.5 V558.5 L642,553 H636 Z" fill="none" stroke="#e0e0e0" stroke-width="1.5"/>
<path d="M653,544.5 Q656.5,549 653,553.5 M657,541.5 Q662,549 657,556.5" fill="none" stroke="#e0e0e0" stroke-width="1.5"/>
<circle cx="706.5" cy="550" r="12.5" fill="#ffffff" opacity="0.08"/>
<rect x="698" y="543" width="21" height="12.3" fill="none" stroke="#e4e4e4" stroke-width="1.4"/>
<rect x="701" y="540.5" width="5.4" height="2.5" fill="#e4e4e4"/>
<circle cx="705" cy="548.8" r="4.3" fill="none" stroke="#e4e4e4" stroke-width="1.4"/>
<rect x="712.8" y="544.8" width="3" height="1.3" fill="#e4e4e4"/>
<rect x="755" y="541" width="24" height="15" fill="none" stroke="#e0e0e0" stroke-width="1.5"/>
<path d="M763,544.5 L771,552.5 M771,544.5 L763,552.5" stroke="#e0e0e0" stroke-width="2"/>
<rect x="812.5" y="546" width="23" height="10" fill="none" stroke="#e4e4e4" stroke-width="1.5"/>
<path d="M818,541.6 H840.5 V551.6" fill="none" stroke="#e4e4e4" stroke-width="1.5"/>
<path d="M873,555.3 H893.6 A3.9,3.75 0 0 0 893.6,547.8 H876.5 L881.5,542.6" fill="none" stroke="#e4e4e4" stroke-width="1.8"/>
<rect x="125" y="570" width="108.5" height="41.5" rx="5" fill="#4c4c4c"/>
<text class="t" x="132" y="595.5" font-size="15" fill="#cfcfcf" textLength="43" lengthAdjust="spacingAndGlyphs">Loud:</text>
<rect x="181" y="584" width="48" height="15" rx="3" fill="#2e2e2e"/>
<rect x="181" y="584" width="26" height="15" rx="3" fill="#3e3e3e"/>
<path d="M190,587.5 V595.5 M193.5,587.5 V595.5 M197,587.5 V595.5" stroke="#7a7a7a" stroke-width="1"/>
<rect x="651.5" y="580" width="116" height="35" rx="3" fill="#6a6a6a" opacity="0.8"/>
<rect x="774.5" y="580" width="116" height="35" rx="3" fill="#6a6a6a" opacity="0.8"/>
<polyline points="688,602 694,592.6 698.8,601.7 704.9,583.7 711.1,605.8 716.6,590.5 720,602.5 724.8,592.6 730.9,602" fill="none" stroke="#f4f4f4" stroke-width="1.8" stroke-linejoin="round"/>
<circle cx="694" cy="592.6" r="1.5" fill="#f0a040"/>
<circle cx="698.8" cy="601.7" r="1.5" fill="#f0a040"/>
<circle cx="704.9" cy="583.7" r="1.5" fill="#f0a040"/>
<circle cx="711.1" cy="605.8" r="1.5" fill="#f0a040"/>
<circle cx="716.6" cy="590.5" r="1.5" fill="#f0a040"/>
<circle cx="720" cy="602.5" r="1.5" fill="#f0a040"/>
<circle cx="724.8" cy="592.6" r="1.5" fill="#f0a040"/>
<path d="M844.6,598.5 A12.5,12.5 0 1 1 844.1,590.6" fill="none" stroke="#f2f2f2" stroke-width="1.5"/>
<path d="M839.5,591.6 H846.6 V585" fill="none" stroke="#f2f2f2" stroke-width="1.5"/>
<text class="t" x="823.8" y="600.2" font-size="12.8" fill="#f2f2f2">R</text>
<text class="t" x="833.6" y="600.4" font-size="7.6" fill="#f2f2f2">es</text>
<text class="t" x="122.6" y="667.4" font-size="11" fill="#e4e4e4" text-anchor="end">8</text>
<rect x="125" y="662.9" width="7.5" height="1" fill="#4a4a4a"/>
<text class="t" x="122.6" y="713.2" font-size="11" fill="#e4e4e4" text-anchor="end">4</text>
<rect x="125" y="708.7" width="7.5" height="1" fill="#4a4a4a"/>
<text class="t" x="122.6" y="759.2" font-size="11" fill="#e4e4e4" text-anchor="end">0</text>
<rect x="125" y="754.7" width="7.5" height="1" fill="#4a4a4a"/>
<text class="t" x="122.6" y="805.2" font-size="11" fill="#e4e4e4" text-anchor="end">-4</text>
<rect x="125" y="800.7" width="7.5" height="1" fill="#4a4a4a"/>
<text class="t" x="122.6" y="851.0" font-size="11" fill="#e4e4e4" text-anchor="end">-8</text>
<rect x="125" y="846.5" width="7.5" height="1" fill="#4a4a4a"/>
<rect x="125" y="678.2" width="7.5" height="1" fill="#4a4a4a"/>
<rect x="125" y="693.4" width="7.5" height="1" fill="#4a4a4a"/>
<rect x="125" y="724.0" width="7.5" height="1" fill="#4a4a4a"/>
<rect x="125" y="739.4" width="7.5" height="1" fill="#4a4a4a"/>
<rect x="125" y="770.0" width="7.5" height="1" fill="#4a4a4a"/>
<rect x="125" y="785.4" width="7.5" height="1" fill="#4a4a4a"/>
<rect x="125" y="816.0" width="7.5" height="1" fill="#4a4a4a"/>
<rect x="125" y="831.2" width="7.5" height="1" fill="#4a4a4a"/>
<rect x="148.30" y="767" width="4" height="79.5" fill="url(#stem)"/>
<rect x="172.37" y="767" width="4" height="79.5" fill="url(#stem)"/>
<rect x="196.44" y="767" width="4" height="79.5" fill="url(#stem)"/>
<rect x="220.51" y="767" width="4" height="79.5" fill="url(#stem)"/>
<rect x="244.58" y="767" width="4" height="79.5" fill="url(#stem)"/>
<rect x="268.65" y="767" width="4" height="79.5" fill="url(#stem)"/>
<rect x="292.72" y="767" width="4" height="79.5" fill="url(#stem)"/>
<rect x="316.79" y="767" width="4" height="79.5" fill="url(#stem)"/>
<rect x="340.86" y="767" width="4" height="79.5" fill="url(#stem)"/>
<rect x="364.93" y="767" width="4" height="79.5" fill="url(#stem)"/>
<rect x="389.00" y="767" width="4" height="79.5" fill="url(#stem)"/>
<rect x="413.07" y="767" width="4" height="79.5" fill="url(#stem)"/>
<rect x="437.14" y="767" width="4" height="79.5" fill="url(#stem)"/>
<rect x="461.21" y="767" width="4" height="79.5" fill="url(#stem)"/>
<rect x="485.28" y="767" width="4" height="79.5" fill="url(#stem)"/>
<rect x="509.35" y="767" width="4" height="79.5" fill="url(#stem)"/>
<rect x="533.42" y="767" width="4" height="79.5" fill="url(#stem)"/>
<rect x="557.49" y="767" width="4" height="79.5" fill="url(#stem)"/>
<rect x="581.56" y="767" width="4" height="79.5" fill="url(#stem)"/>
<rect x="605.63" y="767" width="4" height="79.5" fill="url(#stem)"/>
<rect x="629.70" y="767" width="4" height="79.5" fill="url(#stem)"/>
<rect x="653.77" y="767" width="4" height="79.5" fill="url(#stem)"/>
<rect x="677.84" y="767" width="4" height="79.5" fill="url(#stem)"/>
<rect x="701.91" y="767" width="4" height="79.5" fill="url(#stem)"/>
<rect x="725.98" y="767" width="4" height="79.5" fill="url(#stem)"/>
<rect x="750.05" y="767" width="4" height="79.5" fill="url(#stem)"/>
<rect x="774.12" y="767" width="4" height="79.5" fill="url(#stem)"/>
<rect x="798.19" y="767" width="4" height="79.5" fill="url(#stem)"/>
<rect x="822.26" y="767" width="4" height="79.5" fill="url(#stem)"/>
<rect x="846.33" y="767" width="4" height="79.5" fill="url(#stem)"/>
<rect x="870.40" y="767" width="4" height="79.5" fill="url(#stem)"/>
<rect x="894.47" y="767" width="4" height="79.5" fill="url(#stem)"/>
<rect x="137" y="662.9" width="772.5" height="1" fill="#505050"/>
<rect x="137" y="708.7" width="772.5" height="1" fill="#505050"/>
<rect x="137" y="754.7" width="772.5" height="1" fill="#505050"/>
<rect x="137" y="800.7" width="772.5" height="1" fill="#505050"/>
<rect x="137" y="846.5" width="772.5" height="1" fill="#505050"/>
<g id="knobs">
<g transform="translate(142.30,738.5)"><rect x="-1" y="-1" width="18" height="31" fill="#1a1a1a" opacity="0.6"/><rect x="0" y="0" width="16" height="29.2" fill="#2c2c2c"/><rect x="0" y="0.2" width="16" height="3.3" fill="#dcdcdc"/><rect x="7.2" y="0.2" width="1.4" height="3.3" fill="#9a9a9a"/><rect x="13.4" y="0.2" width="0.8" height="3.3" fill="#b0b0b0"/><rect x="0" y="3.5" width="16" height="11.3" fill="url(#knobTop)"/><path d="M1,5.2 H15 M1,7.6 H15 M1,10 H15 M1,12.4 H15" stroke="#333" stroke-width="0.7"/><rect x="0" y="14.8" width="16" height="1.2" fill="#c8c8c8"/><rect x="0" y="16" width="16" height="1.4" fill="#3a3a3a"/><rect x="0" y="17.4" width="16" height="8.2" fill="url(#knobBot)"/><path d="M1,19.8 H15 M1,22.3 H15" stroke="#b8b8b8" stroke-width="0.6"/><rect x="0" y="0" width="0.8" height="25.6" fill="#888" opacity="0.5"/><rect x="15.2" y="0" width="0.8" height="25.6" fill="#888" opacity="0.5"/></g>
<g transform="translate(166.37,738.5)"><rect x="-1" y="-1" width="18" height="31" fill="#1a1a1a" opacity="0.6"/><rect x="0" y="0" width="16" height="29.2" fill="#2c2c2c"/><rect x="0" y="0.2" width="16" height="3.3" fill="#dcdcdc"/><rect x="7.2" y="0.2" width="1.4" height="3.3" fill="#9a9a9a"/><rect x="13.4" y="0.2" width="0.8" height="3.3" fill="#b0b0b0"/><rect x="0" y="3.5" width="16" height="11.3" fill="url(#knobTop)"/><path d="M1,5.2 H15 M1,7.6 H15 M1,10 H15 M1,12.4 H15" stroke="#333" stroke-width="0.7"/><rect x="0" y="14.8" width="16" height="1.2" fill="#c8c8c8"/><rect x="0" y="16" width="16" height="1.4" fill="#3a3a3a"/><rect x="0" y="17.4" width="16" height="8.2" fill="url(#knobBot)"/><path d="M1,19.8 H15 M1,22.3 H15" stroke="#b8b8b8" stroke-width="0.6"/><rect x="0" y="0" width="0.8" height="25.6" fill="#888" opacity="0.5"/><rect x="15.2" y="0" width="0.8" height="25.6" fill="#888" opacity="0.5"/></g>
<g transform="translate(190.44,738.5)"><rect x="-1" y="-1" width="18" height="31" fill="#1a1a1a" opacity="0.6"/><rect x="0" y="0" width="16" height="29.2" fill="#2c2c2c"/><rect x="0" y="0.2" width="16" height="3.3" fill="#dcdcdc"/><rect x="7.2" y="0.2" width="1.4" height="3.3" fill="#9a9a9a"/><rect x="13.4" y="0.2" width="0.8" height="3.3" fill="#b0b0b0"/><rect x="0" y="3.5" width="16" height="11.3" fill="url(#knobTop)"/><path d="M1,5.2 H15 M1,7.6 H15 M1,10 H15 M1,12.4 H15" stroke="#333" stroke-width="0.7"/><rect x="0" y="14.8" width="16" height="1.2" fill="#c8c8c8"/><rect x="0" y="16" width="16" height="1.4" fill="#3a3a3a"/><rect x="0" y="17.4" width="16" height="8.2" fill="url(#knobBot)"/><path d="M1,19.8 H15 M1,22.3 H15" stroke="#b8b8b8" stroke-width="0.6"/><rect x="0" y="0" width="0.8" height="25.6" fill="#888" opacity="0.5"/><rect x="15.2" y="0" width="0.8" height="25.6" fill="#888" opacity="0.5"/></g>
<g transform="translate(214.51,738.5)"><rect x="-1" y="-1" width="18" height="31" fill="#1a1a1a" opacity="0.6"/><rect x="0" y="0" width="16" height="29.2" fill="#2c2c2c"/><rect x="0" y="0.2" width="16" height="3.3" fill="#dcdcdc"/><rect x="7.2" y="0.2" width="1.4" height="3.3" fill="#9a9a9a"/><rect x="13.4" y="0.2" width="0.8" height="3.3" fill="#b0b0b0"/><rect x="0" y="3.5" width="16" height="11.3" fill="url(#knobTop)"/><path d="M1,5.2 H15 M1,7.6 H15 M1,10 H15 M1,12.4 H15" stroke="#333" stroke-width="0.7"/><rect x="0" y="14.8" width="16" height="1.2" fill="#c8c8c8"/><rect x="0" y="16" width="16" height="1.4" fill="#3a3a3a"/><rect x="0" y="17.4" width="16" height="8.2" fill="url(#knobBot)"/><path d="M1,19.8 H15 M1,22.3 H15" stroke="#b8b8b8" stroke-width="0.6"/><rect x="0" y="0" width="0.8" height="25.6" fill="#888" opacity="0.5"/><rect x="15.2" y="0" width="0.8" height="25.6" fill="#888" opacity="0.5"/></g>
<g transform="translate(238.58,738.5)"><rect x="-1" y="-1" width="18" height="31" fill="#1a1a1a" opacity="0.6"/><rect x="0" y="0" width="16" height="29.2" fill="#2c2c2c"/><rect x="0" y="0.2" width="16" height="3.3" fill="#dcdcdc"/><rect x="7.2" y="0.2" width="1.4" height="3.3" fill="#9a9a9a"/><rect x="13.4" y="0.2" width="0.8" height="3.3" fill="#b0b0b0"/><rect x="0" y="3.5" width="16" height="11.3" fill="url(#knobTop)"/><path d="M1,5.2 H15 M1,7.6 H15 M1,10 H15 M1,12.4 H15" stroke="#333" stroke-width="0.7"/><rect x="0" y="14.8" width="16" height="1.2" fill="#c8c8c8"/><rect x="0" y="16" width="16" height="1.4" fill="#3a3a3a"/><rect x="0" y="17.4" width="16" height="8.2" fill="url(#knobBot)"/><path d="M1,19.8 H15 M1,22.3 H15" stroke="#b8b8b8" stroke-width="0.6"/><rect x="0" y="0" width="0.8" height="25.6" fill="#888" opacity="0.5"/><rect x="15.2" y="0" width="0.8" height="25.6" fill="#888" opacity="0.5"/></g>
<g transform="translate(262.65,738.5)"><rect x="-1" y="-1" width="18" height="31" fill="#1a1a1a" opacity="0.6"/><rect x="0" y="0" width="16" height="29.2" fill="#2c2c2c"/><rect x="0" y="0.2" width="16" height="3.3" fill="#dcdcdc"/><rect x="7.2" y="0.2" width="1.4" height="3.3" fill="#9a9a9a"/><rect x="13.4" y="0.2" width="0.8" height="3.3" fill="#b0b0b0"/><rect x="0" y="3.5" width="16" height="11.3" fill="url(#knobTop)"/><path d="M1,5.2 H15 M1,7.6 H15 M1,10 H15 M1,12.4 H15" stroke="#333" stroke-width="0.7"/><rect x="0" y="14.8" width="16" height="1.2" fill="#c8c8c8"/><rect x="0" y="16" width="16" height="1.4" fill="#3a3a3a"/><rect x="0" y="17.4" width="16" height="8.2" fill="url(#knobBot)"/><path d="M1,19.8 H15 M1,22.3 H15" stroke="#b8b8b8" stroke-width="0.6"/><rect x="0" y="0" width="0.8" height="25.6" fill="#888" opacity="0.5"/><rect x="15.2" y="0" width="0.8" height="25.6" fill="#888" opacity="0.5"/></g>
<g transform="translate(286.72,738.5)"><rect x="-1" y="-1" width="18" height="31" fill="#1a1a1a" opacity="0.6"/><rect x="0" y="0" width="16" height="29.2" fill="#2c2c2c"/><rect x="0" y="0.2" width="16" height="3.3" fill="#dcdcdc"/><rect x="7.2" y="0.2" width="1.4" height="3.3" fill="#9a9a9a"/><rect x="13.4" y="0.2" width="0.8" height="3.3" fill="#b0b0b0"/><rect x="0" y="3.5" width="16" height="11.3" fill="url(#knobTop)"/><path d="M1,5.2 H15 M1,7.6 H15 M1,10 H15 M1,12.4 H15" stroke="#333" stroke-width="0.7"/><rect x="0" y="14.8" width="16" height="1.2" fill="#c8c8c8"/><rect x="0" y="16" width="16" height="1.4" fill="#3a3a3a"/><rect x="0" y="17.4" width="16" height="8.2" fill="url(#knobBot)"/><path d="M1,19.8 H15 M1,22.3 H15" stroke="#b8b8b8" stroke-width="0.6"/><rect x="0" y="0" width="0.8" height="25.6" fill="#888" opacity="0.5"/><rect x="15.2" y="0" width="0.8" height="25.6" fill="#888" opacity="0.5"/></g>
<g transform="translate(310.79,738.5)"><rect x="-1" y="-1" width="18" height="31" fill="#1a1a1a" opacity="0.6"/><rect x="0" y="0" width="16" height="29.2" fill="#2c2c2c"/><rect x="0" y="0.2" width="16" height="3.3" fill="#dcdcdc"/><rect x="7.2" y="0.2" width="1.4" height="3.3" fill="#9a9a9a"/><rect x="13.4" y="0.2" width="0.8" height="3.3" fill="#b0b0b0"/><rect x="0" y="3.5" width="16" height="11.3" fill="url(#knobTop)"/><path d="M1,5.2 H15 M1,7.6 H15 M1,10 H15 M1,12.4 H15" stroke="#333" stroke-width="0.7"/><rect x="0" y="14.8" width="16" height="1.2" fill="#c8c8c8"/><rect x="0" y="16" width="16" height="1.4" fill="#3a3a3a"/><rect x="0" y="17.4" width="16" height="8.2" fill="url(#knobBot)"/><path d="M1,19.8 H15 M1,22.3 H15" stroke="#b8b8b8" stroke-width="0.6"/><rect x="0" y="0" width="0.8" height="25.6" fill="#888" opacity="0.5"/><rect x="15.2" y="0" width="0.8" height="25.6" fill="#888" opacity="0.5"/></g>
<g transform="translate(334.86,738.5)"><rect x="-1" y="-1" width="18" height="31" fill="#1a1a1a" opacity="0.6"/><rect x="0" y="0" width="16" height="29.2" fill="#2c2c2c"/><rect x="0" y="0.2" width="16" height="3.3" fill="#dcdcdc"/><rect x="7.2" y="0.2" width="1.4" height="3.3" fill="#9a9a9a"/><rect x="13.4" y="0.2" width="0.8" height="3.3" fill="#b0b0b0"/><rect x="0" y="3.5" width="16" height="11.3" fill="url(#knobTop)"/><path d="M1,5.2 H15 M1,7.6 H15 M1,10 H15 M1,12.4 H15" stroke="#333" stroke-width="0.7"/><rect x="0" y="14.8" width="16" height="1.2" fill="#c8c8c8"/><rect x="0" y="16" width="16" height="1.4" fill="#3a3a3a"/><rect x="0" y="17.4" width="16" height="8.2" fill="url(#knobBot)"/><path d="M1,19.8 H15 M1,22.3 H15" stroke="#b8b8b8" stroke-width="0.6"/><rect x="0" y="0" width="0.8" height="25.6" fill="#888" opacity="0.5"/><rect x="15.2" y="0" width="0.8" height="25.6" fill="#888" opacity="0.5"/></g>
<g transform="translate(358.93,738.5)"><rect x="-1" y="-1" width="18" height="31" fill="#1a1a1a" opacity="0.6"/><rect x="0" y="0" width="16" height="29.2" fill="#2c2c2c"/><rect x="0" y="0.2" width="16" height="3.3" fill="#dcdcdc"/><rect x="7.2" y="0.2" width="1.4" height="3.3" fill="#9a9a9a"/><rect x="13.4" y="0.2" width="0.8" height="3.3" fill="#b0b0b0"/><rect x="0" y="3.5" width="16" height="11.3" fill="url(#knobTop)"/><path d="M1,5.2 H15 M1,7.6 H15 M1,10 H15 M1,12.4 H15" stroke="#333" stroke-width="0.7"/><rect x="0" y="14.8" width="16" height="1.2" fill="#c8c8c8"/><rect x="0" y="16" width="16" height="1.4" fill="#3a3a3a"/><rect x="0" y="17.4" width="16" height="8.2" fill="url(#knobBot)"/><path d="M1,19.8 H15 M1,22.3 H15" stroke="#b8b8b8" stroke-width="0.6"/><rect x="0" y="0" width="0.8" height="25.6" fill="#888" opacity="0.5"/><rect x="15.2" y="0" width="0.8" height="25.6" fill="#888" opacity="0.5"/></g>
<g transform="translate(383.00,738.5)"><rect x="-1" y="-1" width="18" height="31" fill="#1a1a1a" opacity="0.6"/><rect x="0" y="0" width="16" height="29.2" fill="#2c2c2c"/><rect x="0" y="0.2" width="16" height="3.3" fill="#dcdcdc"/><rect x="7.2" y="0.2" width="1.4" height="3.3" fill="#9a9a9a"/><rect x="13.4" y="0.2" width="0.8" height="3.3" fill="#b0b0b0"/><rect x="0" y="3.5" width="16" height="11.3" fill="url(#knobTop)"/><path d="M1,5.2 H15 M1,7.6 H15 M1,10 H15 M1,12.4 H15" stroke="#333" stroke-width="0.7"/><rect x="0" y="14.8" width="16" height="1.2" fill="#c8c8c8"/><rect x="0" y="16" width="16" height="1.4" fill="#3a3a3a"/><rect x="0" y="17.4" width="16" height="8.2" fill="url(#knobBot)"/><path d="M1,19.8 H15 M1,22.3 H15" stroke="#b8b8b8" stroke-width="0.6"/><rect x="0" y="0" width="0.8" height="25.6" fill="#888" opacity="0.5"/><rect x="15.2" y="0" width="0.8" height="25.6" fill="#888" opacity="0.5"/></g>
<g transform="translate(407.07,738.5)"><rect x="-1" y="-1" width="18" height="31" fill="#1a1a1a" opacity="0.6"/><rect x="0" y="0" width="16" height="29.2" fill="#2c2c2c"/><rect x="0" y="0.2" width="16" height="3.3" fill="#dcdcdc"/><rect x="7.2" y="0.2" width="1.4" height="3.3" fill="#9a9a9a"/><rect x="13.4" y="0.2" width="0.8" height="3.3" fill="#b0b0b0"/><rect x="0" y="3.5" width="16" height="11.3" fill="url(#knobTop)"/><path d="M1,5.2 H15 M1,7.6 H15 M1,10 H15 M1,12.4 H15" stroke="#333" stroke-width="0.7"/><rect x="0" y="14.8" width="16" height="1.2" fill="#c8c8c8"/><rect x="0" y="16" width="16" height="1.4" fill="#3a3a3a"/><rect x="0" y="17.4" width="16" height="8.2" fill="url(#knobBot)"/><path d="M1,19.8 H15 M1,22.3 H15" stroke="#b8b8b8" stroke-width="0.6"/><rect x="0" y="0" width="0.8" height="25.6" fill="#888" opacity="0.5"/><rect x="15.2" y="0" width="0.8" height="25.6" fill="#888" opacity="0.5"/></g>
<g transform="translate(431.14,738.5)"><rect x="-1" y="-1" width="18" height="31" fill="#1a1a1a" opacity="0.6"/><rect x="0" y="0" width="16" height="29.2" fill="#2c2c2c"/><rect x="0" y="0.2" width="16" height="3.3" fill="#dcdcdc"/><rect x="7.2" y="0.2" width="1.4" height="3.3" fill="#9a9a9a"/><rect x="13.4" y="0.2" width="0.8" height="3.3" fill="#b0b0b0"/><rect x="0" y="3.5" width="16" height="11.3" fill="url(#knobTop)"/><path d="M1,5.2 H15 M1,7.6 H15 M1,10 H15 M1,12.4 H15" stroke="#333" stroke-width="0.7"/><rect x="0" y="14.8" width="16" height="1.2" fill="#c8c8c8"/><rect x="0" y="16" width="16" height="1.4" fill="#3a3a3a"/><rect x="0" y="17.4" width="16" height="8.2" fill="url(#knobBot)"/><path d="M1,19.8 H15 M1,22.3 H15" stroke="#b8b8b8" stroke-width="0.6"/><rect x="0" y="0" width="0.8" height="25.6" fill="#888" opacity="0.5"/><rect x="15.2" y="0" width="0.8" height="25.6" fill="#888" opacity="0.5"/></g>
<g transform="translate(455.21,738.5)"><rect x="-1" y="-1" width="18" height="31" fill="#1a1a1a" opacity="0.6"/><rect x="0" y="0" width="16" height="29.2" fill="#2c2c2c"/><rect x="0" y="0.2" width="16" height="3.3" fill="#dcdcdc"/><rect x="7.2" y="0.2" width="1.4" height="3.3" fill="#9a9a9a"/><rect x="13.4" y="0.2" width="0.8" height="3.3" fill="#b0b0b0"/><rect x="0" y="3.5" width="16" height="11.3" fill="url(#knobTop)"/><path d="M1,5.2 H15 M1,7.6 H15 M1,10 H15 M1,12.4 H15" stroke="#333" stroke-width="0.7"/><rect x="0" y="14.8" width="16" height="1.2" fill="#c8c8c8"/><rect x="0" y="16" width="16" height="1.4" fill="#3a3a3a"/><rect x="0" y="17.4" width="16" height="8.2" fill="url(#knobBot)"/><path d="M1,19.8 H15 M1,22.3 H15" stroke="#b8b8b8" stroke-width="0.6"/><rect x="0" y="0" width="0.8" height="25.6" fill="#888" opacity="0.5"/><rect x="15.2" y="0" width="0.8" height="25.6" fill="#888" opacity="0.5"/></g>
<g transform="translate(479.28,738.5)"><rect x="-1" y="-1" width="18" height="31" fill="#1a1a1a" opacity="0.6"/><rect x="0" y="0" width="16" height="29.2" fill="#2c2c2c"/><rect x="0" y="0.2" width="16" height="3.3" fill="#dcdcdc"/><rect x="7.2" y="0.2" width="1.4" height="3.3" fill="#9a9a9a"/><rect x="13.4" y="0.2" width="0.8" height="3.3" fill="#b0b0b0"/><rect x="0" y="3.5" width="16" height="11.3" fill="url(#knobTop)"/><path d="M1,5.2 H15 M1,7.6 H15 M1,10 H15 M1,12.4 H15" stroke="#333" stroke-width="0.7"/><rect x="0" y="14.8" width="16" height="1.2" fill="#c8c8c8"/><rect x="0" y="16" width="16" height="1.4" fill="#3a3a3a"/><rect x="0" y="17.4" width="16" height="8.2" fill="url(#knobBot)"/><path d="M1,19.8 H15 M1,22.3 H15" stroke="#b8b8b8" stroke-width="0.6"/><rect x="0" y="0" width="0.8" height="25.6" fill="#888" opacity="0.5"/><rect x="15.2" y="0" width="0.8" height="25.6" fill="#888" opacity="0.5"/></g>
<g transform="translate(503.35,738.5)"><rect x="-1" y="-1" width="18" height="31" fill="#1a1a1a" opacity="0.6"/><rect x="0" y="0" width="16" height="29.2" fill="#2c2c2c"/><rect x="0" y="0.2" width="16" height="3.3" fill="#dcdcdc"/><rect x="7.2" y="0.2" width="1.4" height="3.3" fill="#9a9a9a"/><rect x="13.4" y="0.2" width="0.8" height="3.3" fill="#b0b0b0"/><rect x="0" y="3.5" width="16" height="11.3" fill="url(#knobTop)"/><path d="M1,5.2 H15 M1,7.6 H15 M1,10 H15 M1,12.4 H15" stroke="#333" stroke-width="0.7"/><rect x="0" y="14.8" width="16" height="1.2" fill="#c8c8c8"/><rect x="0" y="16" width="16" height="1.4" fill="#3a3a3a"/><rect x="0" y="17.4" width="16" height="8.2" fill="url(#knobBot)"/><path d="M1,19.8 H15 M1,22.3 H15" stroke="#b8b8b8" stroke-width="0.6"/><rect x="0" y="0" width="0.8" height="25.6" fill="#888" opacity="0.5"/><rect x="15.2" y="0" width="0.8" height="25.6" fill="#888" opacity="0.5"/></g>
<g transform="translate(527.42,738.5)"><rect x="-1" y="-1" width="18" height="31" fill="#1a1a1a" opacity="0.6"/><rect x="0" y="0" width="16" height="29.2" fill="#2c2c2c"/><rect x="0" y="0.2" width="16" height="3.3" fill="#dcdcdc"/><rect x="7.2" y="0.2" width="1.4" height="3.3" fill="#9a9a9a"/><rect x="13.4" y="0.2" width="0.8" height="3.3" fill="#b0b0b0"/><rect x="0" y="3.5" width="16" height="11.3" fill="url(#knobTop)"/><path d="M1,5.2 H15 M1,7.6 H15 M1,10 H15 M1,12.4 H15" stroke="#333" stroke-width="0.7"/><rect x="0" y="14.8" width="16" height="1.2" fill="#c8c8c8"/><rect x="0" y="16" width="16" height="1.4" fill="#3a3a3a"/><rect x="0" y="17.4" width="16" height="8.2" fill="url(#knobBot)"/><path d="M1,19.8 H15 M1,22.3 H15" stroke="#b8b8b8" stroke-width="0.6"/><rect x="0" y="0" width="0.8" height="25.6" fill="#888" opacity="0.5"/><rect x="15.2" y="0" width="0.8" height="25.6" fill="#888" opacity="0.5"/></g>
<g transform="translate(551.49,738.5)"><rect x="-1" y="-1" width="18" height="31" fill="#1a1a1a" opacity="0.6"/><rect x="0" y="0" width="16" height="29.2" fill="#2c2c2c"/><rect x="0" y="0.2" width="16" height="3.3" fill="#dcdcdc"/><rect x="7.2" y="0.2" width="1.4" height="3.3" fill="#9a9a9a"/><rect x="13.4" y="0.2" width="0.8" height="3.3" fill="#b0b0b0"/><rect x="0" y="3.5" width="16" height="11.3" fill="url(#knobTop)"/><path d="M1,5.2 H15 M1,7.6 H15 M1,10 H15 M1,12.4 H15" stroke="#333" stroke-width="0.7"/><rect x="0" y="14.8" width="16" height="1.2" fill="#c8c8c8"/><rect x="0" y="16" width="16" height="1.4" fill="#3a3a3a"/><rect x="0" y="17.4" width="16" height="8.2" fill="url(#knobBot)"/><path d="M1,19.8 H15 M1,22.3 H15" stroke="#b8b8b8" stroke-width="0.6"/><rect x="0" y="0" width="0.8" height="25.6" fill="#888" opacity="0.5"/><rect x="15.2" y="0" width="0.8" height="25.6" fill="#888" opacity="0.5"/></g>
<g transform="translate(575.56,738.5)"><rect x="-1" y="-1" width="18" height="31" fill="#1a1a1a" opacity="0.6"/><rect x="0" y="0" width="16" height="29.2" fill="#2c2c2c"/><rect x="0" y="0.2" width="16" height="3.3" fill="#dcdcdc"/><rect x="7.2" y="0.2" width="1.4" height="3.3" fill="#9a9a9a"/><rect x="13.4" y="0.2" width="0.8" height="3.3" fill="#b0b0b0"/><rect x="0" y="3.5" width="16" height="11.3" fill="url(#knobTop)"/><path d="M1,5.2 H15 M1,7.6 H15 M1,10 H15 M1,12.4 H15" stroke="#333" stroke-width="0.7"/><rect x="0" y="14.8" width="16" height="1.2" fill="#c8c8c8"/><rect x="0" y="16" width="16" height="1.4" fill="#3a3a3a"/><rect x="0" y="17.4" width="16" height="8.2" fill="url(#knobBot)"/><path d="M1,19.8 H15 M1,22.3 H15" stroke="#b8b8b8" stroke-width="0.6"/><rect x="0" y="0" width="0.8" height="25.6" fill="#888" opacity="0.5"/><rect x="15.2" y="0" width="0.8" height="25.6" fill="#888" opacity="0.5"/></g>
<g transform="translate(599.63,738.5)"><rect x="-1" y="-1" width="18" height="31" fill="#1a1a1a" opacity="0.6"/><rect x="0" y="0" width="16" height="29.2" fill="#2c2c2c"/><rect x="0" y="0.2" width="16" height="3.3" fill="#dcdcdc"/><rect x="7.2" y="0.2" width="1.4" height="3.3" fill="#9a9a9a"/><rect x="13.4" y="0.2" width="0.8" height="3.3" fill="#b0b0b0"/><rect x="0" y="3.5" width="16" height="11.3" fill="url(#knobTop)"/><path d="M1,5.2 H15 M1,7.6 H15 M1,10 H15 M1,12.4 H15" stroke="#333" stroke-width="0.7"/><rect x="0" y="14.8" width="16" height="1.2" fill="#c8c8c8"/><rect x="0" y="16" width="16" height="1.4" fill="#3a3a3a"/><rect x="0" y="17.4" width="16" height="8.2" fill="url(#knobBot)"/><path d="M1,19.8 H15 M1,22.3 H15" stroke="#b8b8b8" stroke-width="0.6"/><rect x="0" y="0" width="0.8" height="25.6" fill="#888" opacity="0.5"/><rect x="15.2" y="0" width="0.8" height="25.6" fill="#888" opacity="0.5"/></g>
<g transform="translate(623.70,738.5)"><rect x="-1" y="-1" width="18" height="31" fill="#1a1a1a" opacity="0.6"/><rect x="0" y="0" width="16" height="29.2" fill="#2c2c2c"/><rect x="0" y="0.2" width="16" height="3.3" fill="#dcdcdc"/><rect x="7.2" y="0.2" width="1.4" height="3.3" fill="#9a9a9a"/><rect x="13.4" y="0.2" width="0.8" height="3.3" fill="#b0b0b0"/><rect x="0" y="3.5" width="16" height="11.3" fill="url(#knobTop)"/><path d="M1,5.2 H15 M1,7.6 H15 M1,10 H15 M1,12.4 H15" stroke="#333" stroke-width="0.7"/><rect x="0" y="14.8" width="16" height="1.2" fill="#c8c8c8"/><rect x="0" y="16" width="16" height="1.4" fill="#3a3a3a"/><rect x="0" y="17.4" width="16" height="8.2" fill="url(#knobBot)"/><path d="M1,19.8 H15 M1,22.3 H15" stroke="#b8b8b8" stroke-width="0.6"/><rect x="0" y="0" width="0.8" height="25.6" fill="#888" opacity="0.5"/><rect x="15.2" y="0" width="0.8" height="25.6" fill="#888" opacity="0.5"/></g>
<g transform="translate(647.77,738.5)"><rect x="-1" y="-1" width="18" height="31" fill="#1a1a1a" opacity="0.6"/><rect x="0" y="0" width="16" height="29.2" fill="#2c2c2c"/><rect x="0" y="0.2" width="16" height="3.3" fill="#dcdcdc"/><rect x="7.2" y="0.2" width="1.4" height="3.3" fill="#9a9a9a"/><rect x="13.4" y="0.2" width="0.8" height="3.3" fill="#b0b0b0"/><rect x="0" y="3.5" width="16" height="11.3" fill="url(#knobTop)"/><path d="M1,5.2 H15 M1,7.6 H15 M1,10 H15 M1,12.4 H15" stroke="#333" stroke-width="0.7"/><rect x="0" y="14.8" width="16" height="1.2" fill="#c8c8c8"/><rect x="0" y="16" width="16" height="1.4" fill="#3a3a3a"/><rect x="0" y="17.4" width="16" height="8.2" fill="url(#knobBot)"/><path d="M1,19.8 H15 M1,22.3 H15" stroke="#b8b8b8" stroke-width="0.6"/><rect x="0" y="0" width="0.8" height="25.6" fill="#888" opacity="0.5"/><rect x="15.2" y="0" width="0.8" height="25.6" fill="#888" opacity="0.5"/></g>
<g transform="translate(671.84,738.5)"><rect x="-1" y="-1" width="18" height="31" fill="#1a1a1a" opacity="0.6"/><rect x="0" y="0" width="16" height="29.2" fill="#2c2c2c"/><rect x="0" y="0.2" width="16" height="3.3" fill="#dcdcdc"/><rect x="7.2" y="0.2" width="1.4" height="3.3" fill="#9a9a9a"/><rect x="13.4" y="0.2" width="0.8" height="3.3" fill="#b0b0b0"/><rect x="0" y="3.5" width="16" height="11.3" fill="url(#knobTop)"/><path d="M1,5.2 H15 M1,7.6 H15 M1,10 H15 M1,12.4 H15" stroke="#333" stroke-width="0.7"/><rect x="0" y="14.8" width="16" height="1.2" fill="#c8c8c8"/><rect x="0" y="16" width="16" height="1.4" fill="#3a3a3a"/><rect x="0" y="17.4" width="16" height="8.2" fill="url(#knobBot)"/><path d="M1,19.8 H15 M1,22.3 H15" stroke="#b8b8b8" stroke-width="0.6"/><rect x="0" y="0" width="0.8" height="25.6" fill="#888" opacity="0.5"/><rect x="15.2" y="0" width="0.8" height="25.6" fill="#888" opacity="0.5"/></g>
<g transform="translate(695.91,738.5)"><rect x="-1" y="-1" width="18" height="31" fill="#1a1a1a" opacity="0.6"/><rect x="0" y="0" width="16" height="29.2" fill="#2c2c2c"/><rect x="0" y="0.2" width="16" height="3.3" fill="#dcdcdc"/><rect x="7.2" y="0.2" width="1.4" height="3.3" fill="#9a9a9a"/><rect x="13.4" y="0.2" width="0.8" height="3.3" fill="#b0b0b0"/><rect x="0" y="3.5" width="16" height="11.3" fill="url(#knobTop)"/><path d="M1,5.2 H15 M1,7.6 H15 M1,10 H15 M1,12.4 H15" stroke="#333" stroke-width="0.7"/><rect x="0" y="14.8" width="16" height="1.2" fill="#c8c8c8"/><rect x="0" y="16" width="16" height="1.4" fill="#3a3a3a"/><rect x="0" y="17.4" width="16" height="8.2" fill="url(#knobBot)"/><path d="M1,19.8 H15 M1,22.3 H15" stroke="#b8b8b8" stroke-width="0.6"/><rect x="0" y="0" width="0.8" height="25.6" fill="#888" opacity="0.5"/><rect x="15.2" y="0" width="0.8" height="25.6" fill="#888" opacity="0.5"/></g>
<g transform="translate(719.98,738.5)"><rect x="-1" y="-1" width="18" height="31" fill="#1a1a1a" opacity="0.6"/><rect x="0" y="0" width="16" height="29.2" fill="#2c2c2c"/><rect x="0" y="0.2" width="16" height="3.3" fill="#dcdcdc"/><rect x="7.2" y="0.2" width="1.4" height="3.3" fill="#9a9a9a"/><rect x="13.4" y="0.2" width="0.8" height="3.3" fill="#b0b0b0"/><rect x="0" y="3.5" width="16" height="11.3" fill="url(#knobTop)"/><path d="M1,5.2 H15 M1,7.6 H15 M1,10 H15 M1,12.4 H15" stroke="#333" stroke-width="0.7"/><rect x="0" y="14.8" width="16" height="1.2" fill="#c8c8c8"/><rect x="0" y="16" width="16" height="1.4" fill="#3a3a3a"/><rect x="0" y="17.4" width="16" height="8.2" fill="url(#knobBot)"/><path d="M1,19.8 H15 M1,22.3 H15" stroke="#b8b8b8" stroke-width="0.6"/><rect x="0" y="0" width="0.8" height="25.6" fill="#888" opacity="0.5"/><rect x="15.2" y="0" width="0.8" height="25.6" fill="#888" opacity="0.5"/></g>
<g transform="translate(744.05,738.5)"><rect x="-1" y="-1" width="18" height="31" fill="#1a1a1a" opacity="0.6"/><rect x="0" y="0" width="16" height="29.2" fill="#2c2c2c"/><rect x="0" y="0.2" width="16" height="3.3" fill="#dcdcdc"/><rect x="7.2" y="0.2" width="1.4" height="3.3" fill="#9a9a9a"/><rect x="13.4" y="0.2" width="0.8" height="3.3" fill="#b0b0b0"/><rect x="0" y="3.5" width="16" height="11.3" fill="url(#knobTop)"/><path d="M1,5.2 H15 M1,7.6 H15 M1,10 H15 M1,12.4 H15" stroke="#333" stroke-width="0.7"/><rect x="0" y="14.8" width="16" height="1.2" fill="#c8c8c8"/><rect x="0" y="16" width="16" height="1.4" fill="#3a3a3a"/><rect x="0" y="17.4" width="16" height="8.2" fill="url(#knobBot)"/><path d="M1,19.8 H15 M1,22.3 H15" stroke="#b8b8b8" stroke-width="0.6"/><rect x="0" y="0" width="0.8" height="25.6" fill="#888" opacity="0.5"/><rect x="15.2" y="0" width="0.8" height="25.6" fill="#888" opacity="0.5"/></g>
<g transform="translate(768.12,738.5)"><rect x="-1" y="-1" width="18" height="31" fill="#1a1a1a" opacity="0.6"/><rect x="0" y="0" width="16" height="29.2" fill="#2c2c2c"/><rect x="0" y="0.2" width="16" height="3.3" fill="#dcdcdc"/><rect x="7.2" y="0.2" width="1.4" height="3.3" fill="#9a9a9a"/><rect x="13.4" y="0.2" width="0.8" height="3.3" fill="#b0b0b0"/><rect x="0" y="3.5" width="16" height="11.3" fill="url(#knobTop)"/><path d="M1,5.2 H15 M1,7.6 H15 M1,10 H15 M1,12.4 H15" stroke="#333" stroke-width="0.7"/><rect x="0" y="14.8" width="16" height="1.2" fill="#c8c8c8"/><rect x="0" y="16" width="16" height="1.4" fill="#3a3a3a"/><rect x="0" y="17.4" width="16" height="8.2" fill="url(#knobBot)"/><path d="M1,19.8 H15 M1,22.3 H15" stroke="#b8b8b8" stroke-width="0.6"/><rect x="0" y="0" width="0.8" height="25.6" fill="#888" opacity="0.5"/><rect x="15.2" y="0" width="0.8" height="25.6" fill="#888" opacity="0.5"/></g>
<g transform="translate(792.19,738.5)"><rect x="-1" y="-1" width="18" height="31" fill="#1a1a1a" opacity="0.6"/><rect x="0" y="0" width="16" height="29.2" fill="#2c2c2c"/><rect x="0" y="0.2" width="16" height="3.3" fill="#dcdcdc"/><rect x="7.2" y="0.2" width="1.4" height="3.3" fill="#9a9a9a"/><rect x="13.4" y="0.2" width="0.8" height="3.3" fill="#b0b0b0"/><rect x="0" y="3.5" width="16" height="11.3" fill="url(#knobTop)"/><path d="M1,5.2 H15 M1,7.6 H15 M1,10 H15 M1,12.4 H15" stroke="#333" stroke-width="0.7"/><rect x="0" y="14.8" width="16" height="1.2" fill="#c8c8c8"/><rect x="0" y="16" width="16" height="1.4" fill="#3a3a3a"/><rect x="0" y="17.4" width="16" height="8.2" fill="url(#knobBot)"/><path d="M1,19.8 H15 M1,22.3 H15" stroke="#b8b8b8" stroke-width="0.6"/><rect x="0" y="0" width="0.8" height="25.6" fill="#888" opacity="0.5"/><rect x="15.2" y="0" width="0.8" height="25.6" fill="#888" opacity="0.5"/></g>
<g transform="translate(816.26,738.5)"><rect x="-1" y="-1" width="18" height="31" fill="#1a1a1a" opacity="0.6"/><rect x="0" y="0" width="16" height="29.2" fill="#2c2c2c"/><rect x="0" y="0.2" width="16" height="3.3" fill="#dcdcdc"/><rect x="7.2" y="0.2" width="1.4" height="3.3" fill="#9a9a9a"/><rect x="13.4" y="0.2" width="0.8" height="3.3" fill="#b0b0b0"/><rect x="0" y="3.5" width="16" height="11.3" fill="url(#knobTop)"/><path d="M1,5.2 H15 M1,7.6 H15 M1,10 H15 M1,12.4 H15" stroke="#333" stroke-width="0.7"/><rect x="0" y="14.8" width="16" height="1.2" fill="#c8c8c8"/><rect x="0" y="16" width="16" height="1.4" fill="#3a3a3a"/><rect x="0" y="17.4" width="16" height="8.2" fill="url(#knobBot)"/><path d="M1,19.8 H15 M1,22.3 H15" stroke="#b8b8b8" stroke-width="0.6"/><rect x="0" y="0" width="0.8" height="25.6" fill="#888" opacity="0.5"/><rect x="15.2" y="0" width="0.8" height="25.6" fill="#888" opacity="0.5"/></g>
<g transform="translate(840.33,738.5)"><rect x="-1" y="-1" width="18" height="31" fill="#1a1a1a" opacity="0.6"/><rect x="0" y="0" width="16" height="29.2" fill="#2c2c2c"/><rect x="0" y="0.2" width="16" height="3.3" fill="#dcdcdc"/><rect x="7.2" y="0.2" width="1.4" height="3.3" fill="#9a9a9a"/><rect x="13.4" y="0.2" width="0.8" height="3.3" fill="#b0b0b0"/><rect x="0" y="3.5" width="16" height="11.3" fill="url(#knobTop)"/><path d="M1,5.2 H15 M1,7.6 H15 M1,10 H15 M1,12.4 H15" stroke="#333" stroke-width="0.7"/><rect x="0" y="14.8" width="16" height="1.2" fill="#c8c8c8"/><rect x="0" y="16" width="16" height="1.4" fill="#3a3a3a"/><rect x="0" y="17.4" width="16" height="8.2" fill="url(#knobBot)"/><path d="M1,19.8 H15 M1,22.3 H15" stroke="#b8b8b8" stroke-width="0.6"/><rect x="0" y="0" width="0.8" height="25.6" fill="#888" opacity="0.5"/><rect x="15.2" y="0" width="0.8" height="25.6" fill="#888" opacity="0.5"/></g>
<g transform="translate(864.40,738.5)"><rect x="-1" y="-1" width="18" height="31" fill="#1a1a1a" opacity="0.6"/><rect x="0" y="0" width="16" height="29.2" fill="#2c2c2c"/><rect x="0" y="0.2" width="16" height="3.3" fill="#dcdcdc"/><rect x="7.2" y="0.2" width="1.4" height="3.3" fill="#9a9a9a"/><rect x="13.4" y="0.2" width="0.8" height="3.3" fill="#b0b0b0"/><rect x="0" y="3.5" width="16" height="11.3" fill="url(#knobTop)"/><path d="M1,5.2 H15 M1,7.6 H15 M1,10 H15 M1,12.4 H15" stroke="#333" stroke-width="0.7"/><rect x="0" y="14.8" width="16" height="1.2" fill="#c8c8c8"/><rect x="0" y="16" width="16" height="1.4" fill="#3a3a3a"/><rect x="0" y="17.4" width="16" height="8.2" fill="url(#knobBot)"/><path d="M1,19.8 H15 M1,22.3 H15" stroke="#b8b8b8" stroke-width="0.6"/><rect x="0" y="0" width="0.8" height="25.6" fill="#888" opacity="0.5"/><rect x="15.2" y="0" width="0.8" height="25.6" fill="#888" opacity="0.5"/></g>
<g transform="translate(888.47,738.5)"><rect x="-1" y="-1" width="18" height="31" fill="#1a1a1a" opacity="0.6"/><rect x="0" y="0" width="16" height="29.2" fill="#2c2c2c"/><rect x="0" y="0.2" width="16" height="3.3" fill="#dcdcdc"/><rect x="7.2" y="0.2" width="1.4" height="3.3" fill="#9a9a9a"/><rect x="13.4" y="0.2" width="0.8" height="3.3" fill="#b0b0b0"/><rect x="0" y="3.5" width="16" height="11.3" fill="url(#knobTop)"/><path d="M1,5.2 H15 M1,7.6 H15 M1,10 H15 M1,12.4 H15" stroke="#333" stroke-width="0.7"/><rect x="0" y="14.8" width="16" height="1.2" fill="#c8c8c8"/><rect x="0" y="16" width="16" height="1.4" fill="#3a3a3a"/><rect x="0" y="17.4" width="16" height="8.2" fill="url(#knobBot)"/><path d="M1,19.8 H15 M1,22.3 H15" stroke="#b8b8b8" stroke-width="0.6"/><rect x="0" y="0" width="0.8" height="25.6" fill="#888" opacity="0.5"/><rect x="15.2" y="0" width="0.8" height="25.6" fill="#888" opacity="0.5"/></g>
</g>
<g><ellipse cx="889.7" cy="750" rx="15.4" ry="11.6" fill="url(#robo)"/><ellipse cx="889.5" cy="751.4" rx="12.3" ry="7.9" fill="#2a3a9e"/><circle cx="883.3" cy="751.1" r="2.6" fill="#9ad8ff"/><circle cx="895.5" cy="751.1" r="2.6" fill="#9ad8ff"/><path d="M883.5,763.5 Q889.5,761.5 895.5,763.5 Q896,770 889.5,776 Q883,770 883.5,763.5 Z" fill="url(#robo)"/><circle cx="889.4" cy="768.2" r="2.3" fill="#70c8ff"/><ellipse cx="880" cy="767.5" rx="1.8" ry="4" fill="#d0dcec" transform="rotate(20 880 767.5)"/><ellipse cx="899" cy="767.5" rx="1.8" ry="4" fill="#d0dcec" transform="rotate(-20 899 767.5)"/></g>
<text class="t" x="129" y="874" font-size="11.5" fill="#cfcfcf" text-anchor="end">FC:</text>
<text class="t" x="129" y="894.5" font-size="11.5" fill="#cfcfcf" text-anchor="end">Q:</text>
<text class="t" x="150.30" y="874.8" font-size="11" fill="#c4c4c4" text-anchor="middle">30</text>
<text class="t" x="150.30" y="894.8" font-size="11" fill="#c4c4c4" text-anchor="middle">3.0</text>
<text class="t" x="174.37" y="874.8" font-size="11" fill="#c4c4c4" text-anchor="middle">60</text>
<text class="t" x="174.37" y="894.8" font-size="11" fill="#c4c4c4" text-anchor="middle">3.0</text>
<text class="t" x="198.44" y="874.8" font-size="11" fill="#c4c4c4" text-anchor="middle">70</text>
<text class="t" x="198.44" y="894.8" font-size="11" fill="#c4c4c4" text-anchor="middle">3.0</text>
<text class="t" x="222.51" y="874.8" font-size="11" fill="#c4c4c4" text-anchor="middle">80</text>
<text class="t" x="222.51" y="894.8" font-size="11" fill="#c4c4c4" text-anchor="middle">3.0</text>
<text class="t" x="246.58" y="874.8" font-size="11" fill="#c4c4c4" text-anchor="middle">90</text>
<text class="t" x="246.58" y="894.8" font-size="11" fill="#c4c4c4" text-anchor="middle">3.0</text>
<text class="t" x="270.65" y="874.8" font-size="11" fill="#c4c4c4" text-anchor="middle">100</text>
<text class="t" x="270.65" y="894.8" font-size="11" fill="#c4c4c4" text-anchor="middle">3.0</text>
<text class="t" x="294.72" y="874.8" font-size="11" fill="#c4c4c4" text-anchor="middle">110</text>
<text class="t" x="294.72" y="894.8" font-size="11" fill="#c4c4c4" text-anchor="middle">3.0</text>
<text class="t" x="318.79" y="874.8" font-size="11" fill="#c4c4c4" text-anchor="middle">120</text>
<text class="t" x="318.79" y="894.8" font-size="11" fill="#c4c4c4" text-anchor="middle">3.0</text>
<text class="t" x="342.86" y="874.8" font-size="11" fill="#c4c4c4" text-anchor="middle">130</text>
<text class="t" x="342.86" y="894.8" font-size="11" fill="#c4c4c4" text-anchor="middle">3.0</text>
<text class="t" x="366.93" y="874.8" font-size="11" fill="#c4c4c4" text-anchor="middle">140</text>
<text class="t" x="366.93" y="894.8" font-size="11" fill="#c4c4c4" text-anchor="middle">3.0</text>
<text class="t" x="391.00" y="874.8" font-size="11" fill="#c4c4c4" text-anchor="middle">150</text>
<text class="t" x="391.00" y="894.8" font-size="11" fill="#c4c4c4" text-anchor="middle">3.0</text>
<text class="t" x="415.07" y="874.8" font-size="11" fill="#c4c4c4" text-anchor="middle">160</text>
<text class="t" x="415.07" y="894.8" font-size="11" fill="#c4c4c4" text-anchor="middle">3.0</text>
<text class="t" x="439.14" y="874.8" font-size="11" fill="#c4c4c4" text-anchor="middle">170</text>
<text class="t" x="439.14" y="894.8" font-size="11" fill="#c4c4c4" text-anchor="middle">3.0</text>
<text class="t" x="463.21" y="874.8" font-size="11" fill="#c4c4c4" text-anchor="middle">180</text>
<text class="t" x="463.21" y="894.8" font-size="11" fill="#c4c4c4" text-anchor="middle">3.0</text>
<text class="t" x="487.28" y="874.8" font-size="11" fill="#c4c4c4" text-anchor="middle">190</text>
<text class="t" x="487.28" y="894.8" font-size="11" fill="#c4c4c4" text-anchor="middle">3.0</text>
<text class="t" x="511.35" y="874.8" font-size="11" fill="#c4c4c4" text-anchor="middle">200</text>
<text class="t" x="511.35" y="894.8" font-size="11" fill="#c4c4c4" text-anchor="middle">3.0</text>
<text class="t" x="535.42" y="874.8" font-size="11" fill="#c4c4c4" text-anchor="middle" textLength="22.5" lengthAdjust="spacingAndGlyphs">0.5K</text>
<text class="t" x="535.42" y="894.8" font-size="11" fill="#c4c4c4" text-anchor="middle">3.0</text>
<text class="t" x="559.49" y="874.8" font-size="11" fill="#c4c4c4" text-anchor="middle">1K</text>
<text class="t" x="559.49" y="894.8" font-size="11" fill="#c4c4c4" text-anchor="middle">3.0</text>
<text class="t" x="583.56" y="874.8" font-size="11" fill="#c4c4c4" text-anchor="middle" textLength="22.5" lengthAdjust="spacingAndGlyphs">1.5K</text>
<text class="t" x="583.56" y="894.8" font-size="11" fill="#c4c4c4" text-anchor="middle">3.0</text>
<text class="t" x="607.63" y="874.8" font-size="11" fill="#c4c4c4" text-anchor="middle">2K</text>
<text class="t" x="607.63" y="894.8" font-size="11" fill="#c4c4c4" text-anchor="middle">3.0</text>
<text class="t" x="631.70" y="874.8" font-size="11" fill="#c4c4c4" text-anchor="middle" textLength="22.5" lengthAdjust="spacingAndGlyphs">2.5K</text>
<text class="t" x="631.70" y="894.8" font-size="11" fill="#c4c4c4" text-anchor="middle">3.0</text>
<text class="t" x="655.77" y="874.8" font-size="11" fill="#c4c4c4" text-anchor="middle">3K</text>
<text class="t" x="655.77" y="894.8" font-size="11" fill="#c4c4c4" text-anchor="middle">3.0</text>
<text class="t" x="679.84" y="874.8" font-size="11" fill="#c4c4c4" text-anchor="middle" textLength="22.5" lengthAdjust="spacingAndGlyphs">3.5K</text>
<text class="t" x="679.84" y="894.8" font-size="11" fill="#c4c4c4" text-anchor="middle">3.0</text>
<text class="t" x="703.91" y="874.8" font-size="11" fill="#c4c4c4" text-anchor="middle">4K</text>
<text class="t" x="703.91" y="894.8" font-size="11" fill="#c4c4c4" text-anchor="middle">3.0</text>
<text class="t" x="727.98" y="874.8" font-size="11" fill="#c4c4c4" text-anchor="middle" textLength="22.5" lengthAdjust="spacingAndGlyphs">4.5K</text>
<text class="t" x="727.98" y="894.8" font-size="11" fill="#c4c4c4" text-anchor="middle">3.0</text>
<text class="t" x="752.05" y="874.8" font-size="11" fill="#c4c4c4" text-anchor="middle">5K</text>
<text class="t" x="752.05" y="894.8" font-size="11" fill="#c4c4c4" text-anchor="middle">3.0</text>
<text class="t" x="776.12" y="874.8" font-size="11" fill="#c4c4c4" text-anchor="middle" textLength="22.5" lengthAdjust="spacingAndGlyphs">7.5K</text>
<text class="t" x="776.12" y="894.8" font-size="11" fill="#c4c4c4" text-anchor="middle">3.0</text>
<text class="t" x="800.19" y="874.8" font-size="11" fill="#c4c4c4" text-anchor="middle" textLength="22.5" lengthAdjust="spacingAndGlyphs">8.5K</text>
<text class="t" x="800.19" y="894.8" font-size="11" fill="#c4c4c4" text-anchor="middle">3.0</text>
<text class="t" x="824.26" y="874.8" font-size="11" fill="#c4c4c4" text-anchor="middle">10K</text>
<text class="t" x="824.26" y="894.8" font-size="11" fill="#c4c4c4" text-anchor="middle">3.0</text>
<text class="t" x="848.33" y="874.8" font-size="11" fill="#c4c4c4" text-anchor="middle">12K</text>
<text class="t" x="848.33" y="894.8" font-size="11" fill="#c4c4c4" text-anchor="middle">3.0</text>
<text class="t" x="872.40" y="874.8" font-size="11" fill="#c4c4c4" text-anchor="middle">15K</text>
<text class="t" x="872.40" y="894.8" font-size="11" fill="#c4c4c4" text-anchor="middle">3.0</text>
<text class="t" x="896.47" y="874.8" font-size="11" fill="#c4c4c4" text-anchor="middle">17K</text>
<text class="t" x="896.47" y="894.8" font-size="11" fill="#c4c4c4" text-anchor="middle">3.0</text>
<rect x="114" y="941.5" width="260" height="38" rx="2" fill="url(#btn)"/>
<rect x="380" y="941.5" width="257" height="38" rx="2" fill="url(#btn2)"/>
<rect x="644" y="941.5" width="260" height="38" rx="2" fill="url(#btn)"/>
<polyline points="229.5,964 234.9,964 237.6,956.7 241,968.9 243.7,952.6 246.6,965.3 250.3,958.7 253.2,964 258.8,964" fill="none" stroke="#fff" stroke-width="1.8" stroke-linejoin="round"/>
<g stroke="#f4aa24" stroke-width="1.6" fill="none"><path d="M500,949.5 V959 M500,967.8 V972.5 M509.7,949.5 V950.6 M509.7,959.4 V972.5 M519.2,949.5 V962.6 M519.2,971.4 V972.5"/><circle cx="500" cy="963.4" r="4.4"/><circle cx="509.7" cy="955" r="4.4"/><circle cx="519.2" cy="967" r="4.4"/></g>
<g fill="#fff"><ellipse cx="763.7" cy="951.7" rx="3.5" ry="3"/><ellipse cx="784.3" cy="951.7" rx="3.5" ry="3"/><ellipse cx="763.7" cy="969.9" rx="3.5" ry="3"/><ellipse cx="784.3" cy="969.9" rx="3.5" ry="3"/><circle cx="774.1" cy="960.6" r="1.3"/></g><g stroke="#fff" stroke-width="1.8" fill="none"><circle cx="774.1" cy="960.6" r="4.3"/><path d="M760.5,960.6 H769.8 M778.4,960.6 H787.5 M774.1,949 V956.3 M774.1,964.9 V972.5"/></g>
<g>
<rect x="258.4" y="534" width="6.9" height="30" fill="#a030b0" opacity="0.55"/>
<rect x="258.4" y="564" width="6.9" height="117" fill="#c42ee0" opacity="0.13"/>
<rect x="275.3" y="534" width="6.9" height="30" fill="#a030b0" opacity="0.55"/>
<rect x="275.3" y="564" width="6.9" height="95" fill="#c42ee0" opacity="0.13"/>
<rect x="292.2" y="534" width="6.9" height="30" fill="#a030b0" opacity="0.55"/>
<rect x="292.2" y="564" width="6.9" height="126" fill="#c42ee0" opacity="0.13"/>
<rect x="309.1" y="534" width="6.9" height="30" fill="#a030b0" opacity="0.55"/>
<rect x="309.1" y="564" width="6.9" height="159" fill="#c42ee0" opacity="0.13"/>
<rect x="326.0" y="534" width="6.9" height="30" fill="#a030b0" opacity="0.55"/>
<rect x="326.0" y="564" width="6.9" height="82" fill="#c42ee0" opacity="0.13"/>
<rect x="342.9" y="534" width="6.9" height="30" fill="#a030b0" opacity="0.55"/>
<rect x="342.9" y="564" width="6.9" height="85" fill="#c42ee0" opacity="0.13"/>
<rect x="359.8" y="534" width="6.9" height="30" fill="#a030b0" opacity="0.55"/>
<rect x="359.8" y="564" width="6.9" height="144" fill="#c42ee0" opacity="0.13"/>
<rect x="376.7" y="534" width="6.9" height="30" fill="#a030b0" opacity="0.55"/>
<rect x="376.7" y="564" width="6.9" height="88" fill="#c42ee0" opacity="0.13"/>
<rect x="393.6" y="534" width="6.9" height="30" fill="#a030b0" opacity="0.55"/>
<rect x="393.6" y="564" width="6.9" height="122" fill="#c42ee0" opacity="0.13"/>
<rect x="410.6" y="534" width="6.9" height="30" fill="#a030b0" opacity="0.55"/>
<rect x="410.6" y="564" width="6.9" height="150" fill="#c42ee0" opacity="0.13"/>
<rect x="427.5" y="534" width="6.9" height="30" fill="#a030b0" opacity="0.55"/>
<rect x="427.5" y="564" width="6.9" height="83" fill="#c040e0" opacity="0.13"/>
<rect x="444.4" y="534" width="6.9" height="30" fill="#a030b0" opacity="0.55"/>
<rect x="444.4" y="564" width="6.9" height="140" fill="#c040e0" opacity="0.13"/>
<rect x="461.3" y="534" width="6.9" height="30" fill="#a030b0" opacity="0.55"/>
<rect x="461.3" y="564" width="6.9" height="103" fill="#c040e0" opacity="0.13"/>
<rect x="478.2" y="534" width="6.9" height="30" fill="#a030b0" opacity="0.55"/>
<rect x="478.2" y="564" width="6.9" height="80" fill="#c040e0" opacity="0.13"/>
<rect x="495.1" y="534" width="6.9" height="30" fill="#a030b0" opacity="0.55"/>
<rect x="495.1" y="564" width="6.9" height="87" fill="#c040e0" opacity="0.13"/>
<rect x="512.0" y="534" width="6.9" height="30" fill="#a030b0" opacity="0.55"/>
<rect x="512.0" y="564" width="6.9" height="131" fill="#c040e0" opacity="0.13"/>
<rect x="528.9" y="534" width="6.9" height="30" fill="#a030b0" opacity="0.55"/>
<rect x="528.9" y="564" width="6.9" height="129" fill="#c040e0" opacity="0.13"/>
<rect x="545.8" y="534" width="6.9" height="30" fill="#a030b0" opacity="0.55"/>
<rect x="545.8" y="564" width="6.9" height="84" fill="#a458d0" opacity="0.13"/>
<rect x="562.8" y="534" width="6.9" height="30" fill="#a030b0" opacity="0.55"/>
<rect x="562.8" y="564" width="6.9" height="106" fill="#a458d0" opacity="0.13"/>
<rect x="579.7" y="534" width="6.9" height="30" fill="#a030b0" opacity="0.55"/>
<rect x="579.7" y="564" width="6.9" height="87" fill="#a458d0" opacity="0.13"/>
<rect x="596.6" y="534" width="6.9" height="30" fill="#a030b0" opacity="0.55"/>
<rect x="596.6" y="564" width="6.9" height="146" fill="#a458d0" opacity="0.13"/>
<rect x="613.5" y="534" width="6.9" height="30" fill="#a030b0" opacity="0.55"/>
<rect x="613.5" y="564" width="6.9" height="130" fill="#a458d0" opacity="0.13"/>
<rect x="630.4" y="534" width="6.9" height="30" fill="#a030b0" opacity="0.55"/>
<rect x="630.4" y="564" width="6.9" height="83" fill="#a458d0" opacity="0.13"/>
<rect x="647.3" y="534" width="6.9" height="30" fill="#a030b0" opacity="0.55"/>
<rect x="647.3" y="564" width="6.9" height="148" fill="#a458d0" opacity="0.13"/>
<rect x="664.2" y="534" width="6.9" height="30" fill="#a030b0" opacity="0.55"/>
<rect x="664.2" y="564" width="6.9" height="91" fill="#a458d0" opacity="0.13"/>
<rect x="681.1" y="534" width="6.9" height="30" fill="#a030b0" opacity="0.55"/>
<rect x="681.1" y="564" width="6.9" height="104" fill="#a458d0" opacity="0.13"/>
<rect x="698.0" y="534" width="6.9" height="30" fill="#a030b0" opacity="0.55"/>
<rect x="698.0" y="564" width="6.9" height="156" fill="#a458d0" opacity="0.13"/>
<rect x="714.9" y="534" width="6.9" height="30" fill="#a030b0" opacity="0.55"/>
<rect x="714.9" y="564" width="6.9" height="156" fill="#a458d0" opacity="0.13"/>
<rect x="731.9" y="534" width="6.9" height="30" fill="#a030b0" opacity="0.55"/>
<rect x="731.9" y="564" width="6.9" height="150" fill="#a458d0" opacity="0.13"/>
<rect x="748.8" y="534" width="6.9" height="30" fill="#a030b0" opacity="0.55"/>
<rect x="748.8" y="564" width="6.9" height="83" fill="#a458d0" opacity="0.13"/>
<rect x="765.7" y="534" width="6.9" height="30" fill="#a030b0" opacity="0.55"/>
<rect x="765.7" y="564" width="6.9" height="149" fill="#c050e8" opacity="0.13"/>
<rect x="782.6" y="534" width="6.9" height="30" fill="#a030b0" opacity="0.55"/>
<rect x="782.6" y="564" width="6.9" height="150" fill="#c050e8" opacity="0.13"/>
<rect x="799.5" y="534" width="6.9" height="30" fill="#a030b0" opacity="0.55"/>
<rect x="799.5" y="564" width="6.9" height="126" fill="#c050e8" opacity="0.13"/>
<rect x="816.4" y="534" width="6.9" height="30" fill="#a030b0" opacity="0.55"/>
<rect x="816.4" y="564" width="6.9" height="82" fill="#c050e8" opacity="0.13"/>
<rect x="833.3" y="534" width="6.9" height="30" fill="#a030b0" opacity="0.55"/>
<rect x="833.3" y="564" width="6.9" height="104" fill="#c050e8" opacity="0.13"/>
<rect x="850.2" y="534" width="6.9" height="30" fill="#a030b0" opacity="0.55"/>
<rect x="850.2" y="564" width="6.9" height="81" fill="#c050e8" opacity="0.13"/>
<rect x="130.0" y="534" width="10" height="30" fill="#6a28d0" opacity="0.55"/>
<rect x="130.0" y="564" width="10" height="109" fill="#3a2ab0" opacity="0.32"/>
<rect x="146.9" y="534" width="10" height="30" fill="#7030d8" opacity="0.58"/>
<rect x="146.9" y="564" width="10" height="42" fill="#9a34d8" opacity="0.55"/>
<rect x="146.9" y="606" width="10" height="129" fill="#4040c0" opacity="0.17"/>
<rect x="163.8" y="534" width="10" height="30" fill="#d040d8" opacity="0.58"/>
<rect x="163.8" y="564" width="10" height="69" fill="#c42ee0" opacity="0.55"/>
<rect x="163.8" y="633" width="10" height="147" fill="#4040c0" opacity="0.17"/>
<rect x="180.7" y="534" width="10" height="30" fill="#d040d8" opacity="0.58"/>
<rect x="180.7" y="564" width="10" height="16" fill="#c42ee0" opacity="0.55"/>
<rect x="180.7" y="580" width="10" height="137" fill="#4040c0" opacity="0.17"/>
<rect x="197.6" y="534" width="10" height="30" fill="#d040d8" opacity="0.58"/>
<rect x="197.6" y="564" width="10" height="11" fill="#c42ee0" opacity="0.55"/>
<rect x="197.6" y="575" width="10" height="83" fill="#c42ee0" opacity="0.17"/>
<rect x="214.6" y="534" width="10" height="30" fill="#d040d8" opacity="0.58"/>
<rect x="214.6" y="564" width="10" height="67" fill="#c42ee0" opacity="0.55"/>
<rect x="214.6" y="631" width="10" height="147" fill="#c42ee0" opacity="0.17"/>
<rect x="231.5" y="534" width="10" height="30" fill="#d040d8" opacity="0.58"/>
<rect x="231.5" y="564" width="10" height="3" fill="#c42ee0" opacity="0.55"/>
<rect x="231.5" y="567" width="10" height="168" fill="#c42ee0" opacity="0.17"/>
<rect x="248.4" y="534" width="10" height="30" fill="#d040d8" opacity="0.58"/>
<rect x="248.4" y="564" width="10" height="50" fill="#c42ee0" opacity="0.55"/>
<rect x="248.4" y="614" width="10" height="129" fill="#c42ee0" opacity="0.17"/>
<rect x="265.3" y="534" width="10" height="30" fill="#d040d8" opacity="0.58"/>
<rect x="265.3" y="564" width="10" height="42" fill="#c42ee0" opacity="0.55"/>
<rect x="265.3" y="606" width="10" height="125" fill="#c42ee0" opacity="0.17"/>
<rect x="282.2" y="534" width="10" height="30" fill="#d040d8" opacity="0.58"/>
<rect x="282.2" y="564" width="10" height="19" fill="#c42ee0" opacity="0.55"/>
<rect x="282.2" y="583" width="10" height="101" fill="#c42ee0" opacity="0.17"/>
<rect x="299.1" y="534" width="10" height="30" fill="#d040d8" opacity="0.58"/>
<rect x="299.1" y="564" width="10" height="5" fill="#c42ee0" opacity="0.55"/>
<rect x="299.1" y="569" width="10" height="141" fill="#c42ee0" opacity="0.17"/>
<rect x="316.0" y="534" width="10" height="30" fill="#d040d8" opacity="0.58"/>
<rect x="316.0" y="564" width="10" height="69" fill="#c42ee0" opacity="0.55"/>
<rect x="316.0" y="633" width="10" height="147" fill="#c42ee0" opacity="0.17"/>
<rect x="332.9" y="534" width="10" height="30" fill="#d040d8" opacity="0.58"/>
<rect x="332.9" y="564" width="10" height="25" fill="#c42ee0" opacity="0.55"/>
<rect x="332.9" y="589" width="10" height="116" fill="#c42ee0" opacity="0.17"/>
<rect x="349.8" y="534" width="10" height="30" fill="#d040d8" opacity="0.58"/>
<rect x="349.8" y="564" width="10" height="92" fill="#c42ee0" opacity="0.55"/>
<rect x="349.8" y="656" width="10" height="164" fill="#c42ee0" opacity="0.17"/>
<rect x="366.7" y="534" width="10" height="30" fill="#d040d8" opacity="0.58"/>
<rect x="366.7" y="564" width="10" height="5" fill="#c42ee0" opacity="0.55"/>
<rect x="366.7" y="569" width="10" height="103" fill="#c42ee0" opacity="0.17"/>
<rect x="383.6" y="534" width="10" height="30" fill="#d040d8" opacity="0.58"/>
<rect x="383.6" y="564" width="10" height="69" fill="#c42ee0" opacity="0.55"/>
<rect x="383.6" y="633" width="10" height="147" fill="#c42ee0" opacity="0.17"/>
<rect x="400.6" y="534" width="10" height="30" fill="#d040d8" opacity="0.58"/>
<rect x="400.6" y="564" width="10" height="90" fill="#c42ee0" opacity="0.55"/>
<rect x="400.6" y="654" width="10" height="166" fill="#c42ee0" opacity="0.17"/>
<rect x="417.5" y="534" width="10" height="30" fill="#d060e0" opacity="0.58"/>
<rect x="417.5" y="564" width="10" height="57" fill="#c040e0" opacity="0.55"/>
<rect x="417.5" y="621" width="10" height="98" fill="#c040e0" opacity="0.17"/>
<rect x="434.4" y="534" width="10" height="30" fill="#d060e0" opacity="0.58"/>
<rect x="434.4" y="564" width="10" height="35" fill="#c040e0" opacity="0.55"/>
<rect x="434.4" y="599" width="10" height="125" fill="#c040e0" opacity="0.17"/>
<rect x="451.3" y="534" width="10" height="30" fill="#d060e0" opacity="0.58"/>
<rect x="451.3" y="564" width="10" height="60" fill="#c040e0" opacity="0.55"/>
<rect x="451.3" y="624" width="10" height="109" fill="#c040e0" opacity="0.17"/>
<rect x="468.2" y="534" width="10" height="30" fill="#d070e0" opacity="0.58"/>
<rect x="468.2" y="564" width="10" height="36" fill="#c040e0" opacity="0.55"/>
<rect x="468.2" y="600" width="10" height="54" fill="#c040e0" opacity="0.17"/>
<rect x="485.1" y="534" width="10" height="30" fill="#d070e0" opacity="0.58"/>
<rect x="485.1" y="564" width="10" height="92" fill="#c040e0" opacity="0.55"/>
<rect x="485.1" y="656" width="10" height="164" fill="#c040e0" opacity="0.17"/>
<rect x="502.0" y="534" width="10" height="30" fill="#d070e0" opacity="0.58"/>
<rect x="502.0" y="564" width="10" height="24" fill="#c040e0" opacity="0.55"/>
<rect x="502.0" y="588" width="10" height="117" fill="#c040e0" opacity="0.17"/>
<rect x="518.9" y="534" width="10" height="30" fill="#d070e0" opacity="0.58"/>
<rect x="518.9" y="564" width="10" height="40" fill="#c040e0" opacity="0.55"/>
<rect x="518.9" y="604" width="10" height="186" fill="#c040e0" opacity="0.17"/>
<rect x="535.8" y="534" width="10" height="30" fill="#c8a0dc" opacity="0.58"/>
<rect x="535.8" y="564" width="10" height="30" fill="#a458d0" opacity="0.55"/>
<rect x="535.8" y="594" width="10" height="121" fill="#a458d0" opacity="0.17"/>
<rect x="552.8" y="534" width="10" height="30" fill="#c8a0dc" opacity="0.58"/>
<rect x="552.8" y="564" width="10" height="36" fill="#a458d0" opacity="0.55"/>
<rect x="552.8" y="600" width="10" height="129" fill="#a458d0" opacity="0.17"/>
<rect x="569.7" y="534" width="10" height="30" fill="#c8a0dc" opacity="0.58"/>
<rect x="569.7" y="564" width="10" height="36" fill="#a458d0" opacity="0.55"/>
<rect x="569.7" y="600" width="10" height="47" fill="#a458d0" opacity="0.17"/>
<rect x="586.6" y="534" width="10" height="30" fill="#c8a0dc" opacity="0.58"/>
<rect x="586.6" y="564" width="10" height="77" fill="#a458d0" opacity="0.55"/>
<rect x="586.6" y="641" width="10" height="155" fill="#a458d0" opacity="0.17"/>
<rect x="603.5" y="534" width="10" height="30" fill="#c8a0dc" opacity="0.58"/>
<rect x="603.5" y="564" width="10" height="33" fill="#a458d0" opacity="0.55"/>
<rect x="603.5" y="597" width="10" height="125" fill="#a458d0" opacity="0.17"/>
<rect x="620.4" y="534" width="10" height="30" fill="#c8a0dc" opacity="0.58"/>
<rect x="620.4" y="564" width="10" height="11" fill="#a458d0" opacity="0.55"/>
<rect x="620.4" y="575" width="10" height="109" fill="#a458d0" opacity="0.17"/>
<rect x="637.3" y="534" width="10" height="30" fill="#c8a0dc" opacity="0.58"/>
<rect x="637.3" y="564" width="10" height="55" fill="#a458d0" opacity="0.55"/>
<rect x="637.3" y="619" width="10" height="140" fill="#a458d0" opacity="0.17"/>
<rect x="654.2" y="534" width="10" height="30" fill="#c8a0dc" opacity="0.58"/>
<rect x="654.2" y="564" width="10" height="77" fill="#a458d0" opacity="0.55"/>
<rect x="654.2" y="641" width="10" height="155" fill="#a458d0" opacity="0.17"/>
<rect x="671.1" y="534" width="10" height="30" fill="#c8a0dc" opacity="0.58"/>
<rect x="671.1" y="564" width="10" height="17" fill="#a458d0" opacity="0.55"/>
<rect x="671.1" y="581" width="10" height="96" fill="#a458d0" opacity="0.17"/>
<rect x="688.0" y="534" width="10" height="30" fill="#c8a0dc" opacity="0.58"/>
<rect x="688.0" y="564" width="10" height="43" fill="#a458d0" opacity="0.55"/>
<rect x="688.0" y="607" width="10" height="108" fill="#a458d0" opacity="0.17"/>
<rect x="704.9" y="534" width="10" height="30" fill="#c8a0dc" opacity="0.58"/>
<rect x="704.9" y="564" width="10" height="118" fill="#a458d0" opacity="0.55"/>
<rect x="704.9" y="682" width="10" height="193" fill="#a458d0" opacity="0.17"/>
<rect x="721.9" y="534" width="10" height="30" fill="#c8a0dc" opacity="0.58"/>
<rect x="721.9" y="564" width="10" height="26" fill="#a458d0" opacity="0.55"/>
<rect x="721.9" y="590" width="10" height="129" fill="#a458d0" opacity="0.17"/>
<rect x="738.8" y="534" width="10" height="30" fill="#c8a0dc" opacity="0.58"/>
<rect x="738.8" y="564" width="10" height="24" fill="#a458d0" opacity="0.55"/>
<rect x="738.8" y="588" width="10" height="117" fill="#a458d0" opacity="0.17"/>
<rect x="755.7" y="534" width="10" height="30" fill="#d080e8" opacity="0.58"/>
<rect x="755.7" y="564" width="10" height="52" fill="#c050e8" opacity="0.55"/>
<rect x="755.7" y="616" width="10" height="122" fill="#c050e8" opacity="0.17"/>
<rect x="772.6" y="534" width="10" height="30" fill="#d080e8" opacity="0.58"/>
<rect x="772.6" y="564" width="10" height="15" fill="#c050e8" opacity="0.55"/>
<rect x="772.6" y="579" width="10" height="112" fill="#c050e8" opacity="0.17"/>
<rect x="789.5" y="534" width="10" height="30" fill="#d080e8" opacity="0.58"/>
<rect x="789.5" y="564" width="10" height="31" fill="#c050e8" opacity="0.55"/>
<rect x="789.5" y="595" width="10" height="124" fill="#c050e8" opacity="0.17"/>
<rect x="806.4" y="534" width="10" height="30" fill="#d080e8" opacity="0.58"/>
<rect x="806.4" y="564" width="10" height="17" fill="#c050e8" opacity="0.55"/>
<rect x="806.4" y="581" width="10" height="113" fill="#c050e8" opacity="0.17"/>
<rect x="823.3" y="534" width="10" height="30" fill="#d080e8" opacity="0.58"/>
<rect x="823.3" y="564" width="10" height="26" fill="#c050e8" opacity="0.55"/>
<rect x="823.3" y="590" width="10" height="115" fill="#c050e8" opacity="0.17"/>
<rect x="840.2" y="534" width="10" height="30" fill="#d080e8" opacity="0.58"/>
<rect x="840.2" y="564" width="10" height="116" fill="#c050e8" opacity="0.55"/>
<rect x="840.2" y="680" width="10" height="195" fill="#c050e8" opacity="0.17"/>
<rect x="857.1" y="534" width="10" height="30" fill="#d080e8" opacity="0.58"/>
<rect x="857.1" y="564" width="10" height="57" fill="#c050e8" opacity="0.55"/>
<rect x="857.1" y="621" width="10" height="131" fill="#c050e8" opacity="0.17"/>
<rect x="874.0" y="534" width="10" height="30" fill="#e050c0" opacity="0.58"/>
<rect x="874.0" y="564" width="10" height="5" fill="#d83ab8" opacity="0.55"/>
<rect x="874.0" y="569" width="10" height="101" fill="#d83ab8" opacity="0.17"/>
<rect x="891.0" y="534" width="10" height="30" fill="#e050c0" opacity="0.58"/>
<rect x="891.0" y="564" width="10" height="36" fill="#d83ab8" opacity="0.55"/>
<rect x="891.0" y="600" width="10" height="124" fill="#d83ab8" opacity="0.17"/>
</g>
</svg>
</body></html>
